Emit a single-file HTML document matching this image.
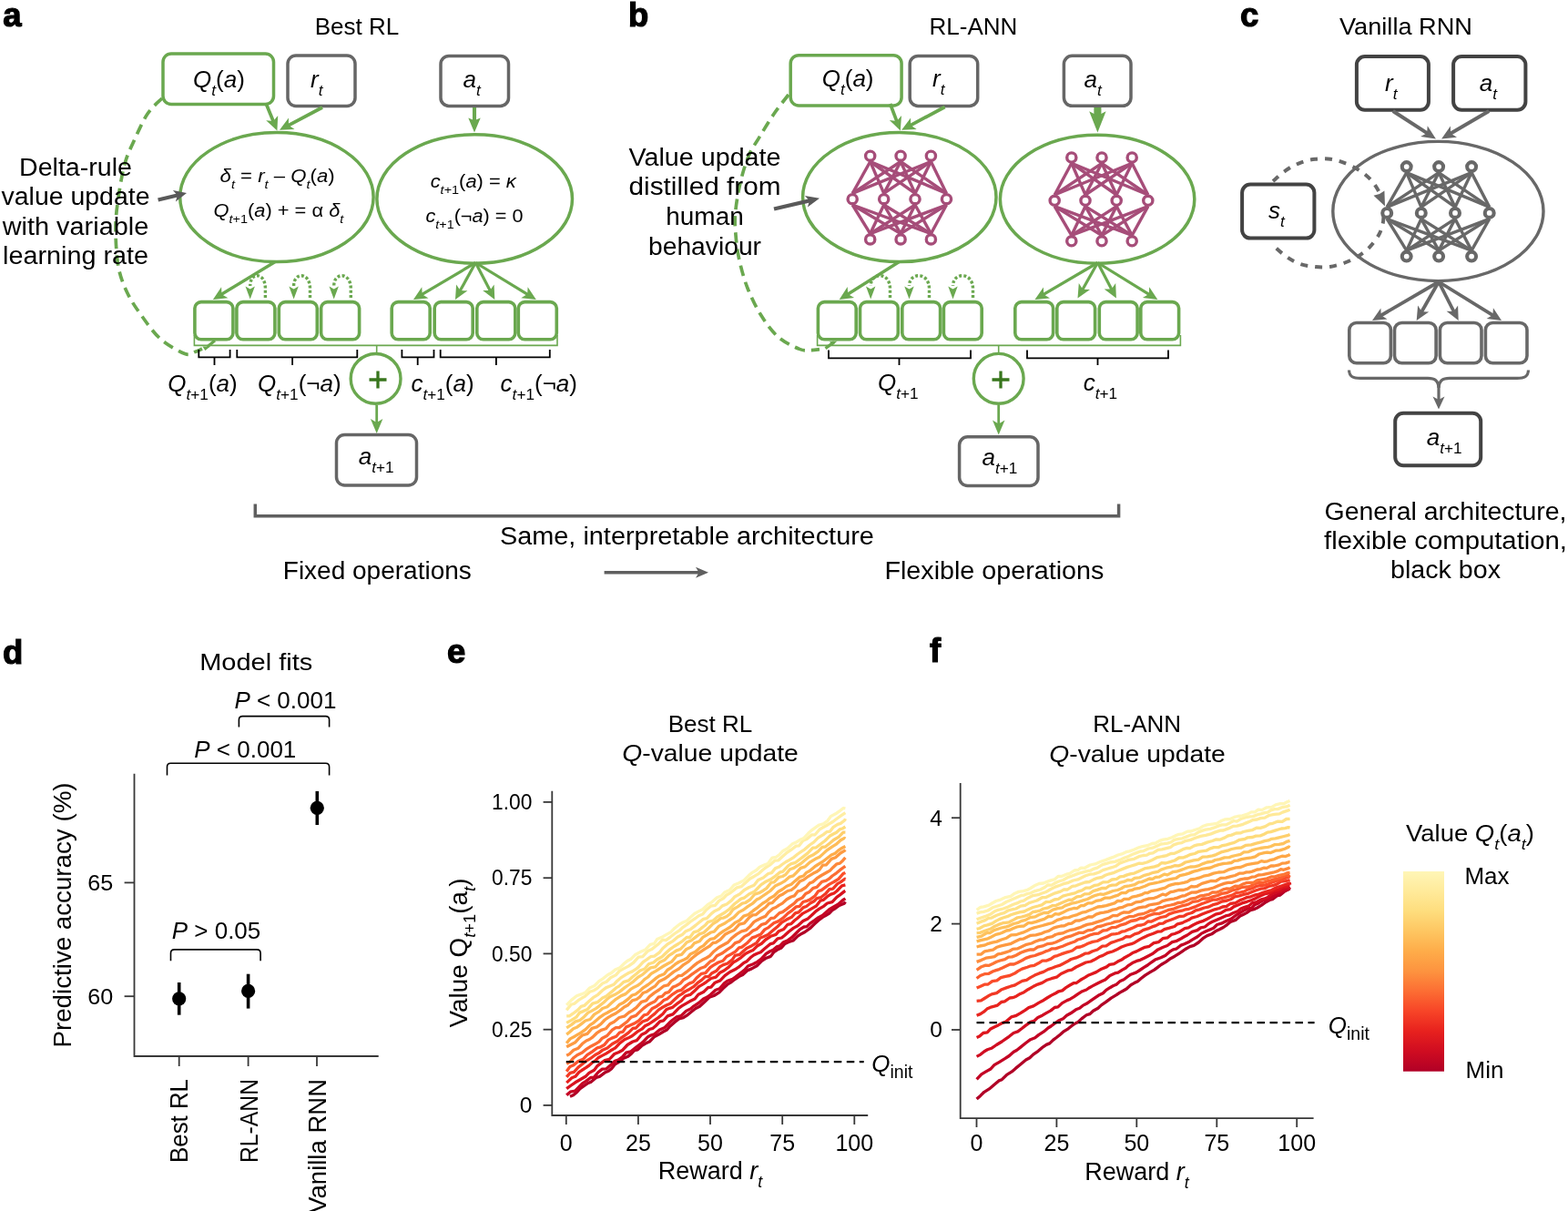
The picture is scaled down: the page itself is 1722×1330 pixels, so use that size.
<!DOCTYPE html>
<html><head><meta charset="utf-8"><title>Figure</title><style>html,body{margin:0;padding:0;background:#fff;}svg{display:block;}</style></head><body>
<svg width="1722" height="1330" viewBox="0 0 1722 1330" font-family="'Liberation Sans', Arial, sans-serif">
<rect width="1722" height="1330" fill="#fff"/>
<text x="3.2" y="28.8" font-size="36.5" text-anchor="start" fill="#000" font-weight="bold" stroke="#000" stroke-width="1.2">a</text>
<text x="690.0" y="28.8" font-size="36.5" text-anchor="start" fill="#000" font-weight="bold" stroke="#000" stroke-width="1.2">b</text>
<text x="1362.0" y="28.8" font-size="36.5" text-anchor="start" fill="#000" font-weight="bold" stroke="#000" stroke-width="1.2">c</text>
<text x="3.0" y="728.5" font-size="36.5" text-anchor="start" fill="#000" font-weight="bold" stroke="#000" stroke-width="1.2">d</text>
<text x="491.0" y="727.8" font-size="36.5" text-anchor="start" fill="#000" font-weight="bold" stroke="#000" stroke-width="1.2">e</text>
<text x="1021.0" y="726.8" font-size="36.5" text-anchor="start" fill="#000" font-weight="bold" stroke="#000" stroke-width="1.2">f</text>
<text x="392.0" y="37.9" font-size="26" text-anchor="middle" fill="#000" >Best RL</text>
<text x="1069.0" y="37.9" font-size="26" text-anchor="middle" fill="#000" >RL-ANN</text>
<text x="1544.0" y="37.7" font-size="26.5" text-anchor="middle" fill="#000" textLength="146" lengthAdjust="spacingAndGlyphs" >Vanilla RNN</text>
<path d="M178.0,108.0 C175.3,110.8 167.2,117.2 162.0,125.0 C156.8,132.8 151.2,145.8 147.0,155.0 C142.8,164.2 139.8,169.7 137.0,180.0 C134.2,190.3 131.7,205.2 130.0,217.0 C128.3,228.8 127.0,238.3 127.0,251.0 C127.0,263.7 127.8,281.2 130.0,293.0 C132.2,304.8 135.8,313.2 140.0,322.0 C144.2,330.8 149.0,337.7 155.0,346.0 C161.0,354.3 168.0,364.9 176.0,372.0 C184.0,379.1 196.7,386.1 203.0,388.5 C209.3,390.9 210.8,387.4 214.0,386.5 C217.2,385.6 220.7,383.6 222.0,383.0" fill="none" stroke="#6aa84f" stroke-width="3.7" stroke-dasharray="11.5 7"/>
<path d="M236,374 L227.5,381" stroke="#6aa84f" stroke-width="3.2"/>
<polygon points="222.4,380.6 230.8,380.6 225.4,385" fill="#6aa84f"/>
<path d="M213.4,368 V379.4 H612 V368" fill="none" stroke="#6aa84f" stroke-width="1.6"/>
<line x1="413.7" y1="379.4" x2="413.7" y2="388.0" stroke="#6aa84f" stroke-width="1.6" />
<rect x="179.0" y="59.0" width="121.5" height="55.5" rx="9" fill="#fff" stroke="#6aa84f" stroke-width="3.5"/>
<rect x="316.0" y="61.0" width="74.0" height="55.5" rx="9" fill="#fff" stroke="#666666" stroke-width="3.5"/>
<rect x="484.0" y="61.4" width="74.5" height="55.0" rx="9" fill="#fff" stroke="#666666" stroke-width="3.5"/>
<line x1="292.7" y1="115.0" x2="301.0" y2="135.2" stroke="#6aa84f" stroke-width="3.7"/>
<polygon points="304.4,143.5 292.2,132.3 300.1,133.1 305.2,127.0" fill="#6aa84f"/>
<line x1="354.0" y1="118.0" x2="315.0" y2="138.6" stroke="#6aa84f" stroke-width="3.7"/>
<polygon points="307.0,142.8 317.0,129.6 316.9,137.5 323.5,142.0" fill="#6aa84f"/>
<line x1="521.0" y1="118.0" x2="521.0" y2="135.9" stroke="#6aa84f" stroke-width="4.1"/>
<polygon points="521.0,145.5 514.3,129.5 521.0,132.2 527.7,129.5" fill="#6aa84f"/>
<ellipse cx="303.9" cy="216.6" rx="106.2" ry="71.0" fill="none" stroke="#6aa84f" stroke-width="3.5"/>
<ellipse cx="521.2" cy="218.5" rx="107.3" ry="70.7" fill="none" stroke="#6aa84f" stroke-width="3.5"/>
<line x1="302.2" y1="287.5" x2="241.6" y2="324.3" stroke="#6aa84f" stroke-width="3.4"/>
<polygon points="233.9,329.0 243.1,315.2 243.5,323.2 250.4,327.2" fill="#6aa84f"/>
<line x1="522.3" y1="288.5" x2="461.7" y2="324.4" stroke="#6aa84f" stroke-width="3.2"/>
<polygon points="454.0,329.0 463.3,315.3 463.7,323.3 470.5,327.4" fill="#6aa84f"/>
<line x1="522.3" y1="288.5" x2="504.3" y2="321.1" stroke="#6aa84f" stroke-width="3.2"/>
<polygon points="500.0,329.0 501.1,312.5 505.4,319.1 513.4,319.2" fill="#6aa84f"/>
<line x1="522.3" y1="288.5" x2="539.2" y2="321.0" stroke="#6aa84f" stroke-width="3.2"/>
<polygon points="543.3,329.0 530.2,318.9 538.1,319.0 542.6,312.5" fill="#6aa84f"/>
<line x1="522.3" y1="288.5" x2="581.1" y2="324.3" stroke="#6aa84f" stroke-width="3.2"/>
<polygon points="588.8,329.0 572.3,327.2 579.2,323.1 579.6,315.2" fill="#6aa84f"/>
<rect x="213.9" y="331.6" width="42.0" height="41.1" rx="7" fill="#fff" stroke="#6aa84f" stroke-width="3.6"/>
<rect x="259.9" y="331.6" width="42.0" height="41.1" rx="7" fill="#fff" stroke="#6aa84f" stroke-width="3.6"/>
<rect x="306.3" y="331.6" width="42.0" height="41.1" rx="7" fill="#fff" stroke="#6aa84f" stroke-width="3.6"/>
<rect x="352.6" y="331.6" width="42.0" height="41.1" rx="7" fill="#fff" stroke="#6aa84f" stroke-width="3.6"/>
<rect x="430.2" y="331.6" width="42.0" height="41.1" rx="7" fill="#fff" stroke="#6aa84f" stroke-width="3.6"/>
<rect x="477.2" y="331.6" width="42.0" height="41.1" rx="7" fill="#fff" stroke="#6aa84f" stroke-width="3.6"/>
<rect x="523.8" y="331.6" width="42.0" height="41.1" rx="7" fill="#fff" stroke="#6aa84f" stroke-width="3.6"/>
<rect x="569.3" y="331.6" width="42.0" height="41.1" rx="7" fill="#fff" stroke="#6aa84f" stroke-width="3.6"/>
<path d="M291.4,327.0 V317.0 C291.4,298.5 274.7,298.5 274.7,314.0" fill="none" stroke="#6aa84f" stroke-width="3.4" stroke-dasharray="3 2.2"/>
<polygon points="274.7,328.5 269.5,314.5 274.7,317.5 279.9,314.5" fill="#6aa84f"/>
<path d="M340.5,327.0 V317.0 C340.5,298.5 322.6,298.5 322.6,314.0" fill="none" stroke="#6aa84f" stroke-width="3.4" stroke-dasharray="3 2.2"/>
<polygon points="322.6,328.5 317.4,314.5 322.6,317.5 327.8,314.5" fill="#6aa84f"/>
<path d="M385.3,327.0 V317.0 C385.3,298.5 366.7,298.5 366.7,314.0" fill="none" stroke="#6aa84f" stroke-width="3.4" stroke-dasharray="3 2.2"/>
<polygon points="366.7,328.5 361.5,314.5 366.7,317.5 371.9,314.5" fill="#6aa84f"/>
<path d="M218.3,384.1 V392.4 H252.6 V384.1 M235.5,392.4 V401.0" fill="none" stroke="#000" stroke-width="1.8"/>
<path d="M260.3,384.1 V392.4 H392.3 V384.1 M321.1,392.4 V401.0" fill="none" stroke="#000" stroke-width="1.8"/>
<path d="M441.4,384.1 V392.4 H476.5 V384.1 M458.7,392.4 V401.0" fill="none" stroke="#000" stroke-width="1.8"/>
<path d="M483.7,384.1 V392.4 H603.8 V384.1 M544.9,392.4 V401.0" fill="none" stroke="#000" stroke-width="1.8"/>
<circle cx="412.6" cy="415.9" r="27.4" fill="#fff" stroke="#6aa84f" stroke-width="3.4"/>
<path d="M405.5,417 H424.5 M415,407.5 V426.5" stroke="#38761d" stroke-width="3.3"/>
<line x1="413.7" y1="445.0" x2="413.7" y2="466.4" stroke="#6aa84f" stroke-width="2.8"/>
<polygon points="413.7,476.0 406.9,460.0 413.7,464.0 420.4,460.0" fill="#6aa84f"/>
<rect x="369.5" y="477.5" width="88.0" height="55.5" rx="9" fill="#fff" stroke="#666666" stroke-width="3.5"/>
<line x1="173.6" y1="219.5" x2="196.8" y2="214.0" stroke="#595959" stroke-width="4.2"/>
<polygon points="205.0,212.0 192.9,221.6 194.8,214.4 189.9,208.9" fill="#595959"/>
<text x="212.0" y="95.9" font-size="26" text-anchor="start" fill="#000" ><tspan font-style="italic">Q</tspan><tspan baseline-shift="-8.8" font-size="17.2"><tspan font-style="italic">t</tspan></tspan>(<tspan font-style="italic">a</tspan>)</text>
<text x="341.0" y="95.9" font-size="26" text-anchor="start" fill="#000" ><tspan font-style="italic">r</tspan><tspan baseline-shift="-8.8" font-size="17.2"><tspan font-style="italic">t</tspan></tspan></text>
<text x="508.5" y="95.7" font-size="26" text-anchor="start" fill="#000" ><tspan font-style="italic">a</tspan><tspan baseline-shift="-8.8" font-size="17.2"><tspan font-style="italic">t</tspan></tspan></text>
<text x="241.6" y="199.5" font-size="19.5" text-anchor="start" fill="#000" textLength="126" lengthAdjust="spacingAndGlyphs" ><tspan font-style="italic">δ</tspan><tspan baseline-shift="-6.6" font-size="12.9"><tspan font-style="italic">t</tspan></tspan> = <tspan font-style="italic">r</tspan><tspan baseline-shift="-6.6" font-size="12.9"><tspan font-style="italic">t</tspan></tspan> – <tspan font-style="italic">Q</tspan><tspan baseline-shift="-6.6" font-size="12.9"><tspan font-style="italic">t</tspan></tspan>(<tspan font-style="italic">a</tspan>)</text>
<text x="234.4" y="238.4" font-size="19.5" text-anchor="start" fill="#000" textLength="143" lengthAdjust="spacingAndGlyphs" ><tspan font-style="italic">Q</tspan><tspan baseline-shift="-6.6" font-size="12.9"><tspan font-style="italic">t</tspan>+1</tspan>(<tspan font-style="italic">a</tspan>) + = α <tspan font-style="italic">δ</tspan><tspan baseline-shift="-6.6" font-size="12.9"><tspan font-style="italic">t</tspan></tspan></text>
<text x="472.7" y="206.2" font-size="19.5" text-anchor="start" fill="#000" textLength="94" lengthAdjust="spacingAndGlyphs" ><tspan font-style="italic">c</tspan><tspan baseline-shift="-6.6" font-size="12.9"><tspan font-style="italic">t</tspan>+1</tspan>(<tspan font-style="italic">a</tspan>) = <tspan font-style="italic">κ</tspan></text>
<text x="467.5" y="244.3" font-size="19.5" text-anchor="start" fill="#000" textLength="107" lengthAdjust="spacingAndGlyphs" ><tspan font-style="italic">c</tspan><tspan baseline-shift="-6.6" font-size="12.9"><tspan font-style="italic">t</tspan>+1</tspan>(¬<tspan font-style="italic">a</tspan>) = 0</text>
<text x="184.3" y="429.8" font-size="26" text-anchor="start" fill="#000" ><tspan font-style="italic">Q</tspan><tspan baseline-shift="-8.8" font-size="17.2"><tspan font-style="italic">t</tspan>+1</tspan>(<tspan font-style="italic">a</tspan>)</text>
<text x="283.0" y="429.8" font-size="26" text-anchor="start" fill="#000" ><tspan font-style="italic">Q</tspan><tspan baseline-shift="-8.8" font-size="17.2"><tspan font-style="italic">t</tspan>+1</tspan>(¬<tspan font-style="italic">a</tspan>)</text>
<text x="451.4" y="429.8" font-size="26" text-anchor="start" fill="#000" ><tspan font-style="italic">c</tspan><tspan baseline-shift="-8.8" font-size="17.2"><tspan font-style="italic">t</tspan>+1</tspan>(<tspan font-style="italic">a</tspan>)</text>
<text x="549.6" y="429.8" font-size="26" text-anchor="start" fill="#000" ><tspan font-style="italic">c</tspan><tspan baseline-shift="-8.8" font-size="17.2"><tspan font-style="italic">t</tspan>+1</tspan>(¬<tspan font-style="italic">a</tspan>)</text>
<text x="393.7" y="510.2" font-size="26" text-anchor="start" fill="#000" ><tspan font-style="italic">a</tspan><tspan baseline-shift="-8.8" font-size="17.2"><tspan font-style="italic">t</tspan>+1</tspan></text>
<text x="83.0" y="192.6" font-size="27" text-anchor="middle" fill="#000" textLength="124" lengthAdjust="spacingAndGlyphs" >Delta-rule</text>
<text x="83.0" y="225.1" font-size="27" text-anchor="middle" fill="#000" textLength="163" lengthAdjust="spacingAndGlyphs" >value update</text>
<text x="83.0" y="257.6" font-size="27" text-anchor="middle" fill="#000" textLength="160.5" lengthAdjust="spacingAndGlyphs" >with variable</text>
<text x="83.0" y="290.1" font-size="27" text-anchor="middle" fill="#000" textLength="160" lengthAdjust="spacingAndGlyphs" >learning rate</text>
<path d="M866.0,104.0 C863.3,107.5 855.3,117.2 850.0,125.0 C844.7,132.8 838.7,142.8 834.0,150.6 C829.3,158.4 825.5,163.0 822.0,171.6 C818.5,180.2 815.1,191.5 812.7,202.0 C810.3,212.5 808.3,225.3 807.5,234.6 C806.7,243.9 807.3,249.8 808.0,258.0 C808.7,266.2 809.4,273.9 811.5,283.6 C813.6,293.3 816.7,305.5 820.8,316.0 C824.9,326.5 830.4,337.6 836.0,346.6 C841.6,355.6 847.6,363.9 854.6,370.0 C861.6,376.1 872.1,381.0 878.0,383.4 C883.9,385.8 886.3,384.6 890.0,384.6 C893.7,384.6 898.3,383.8 900.0,383.6" fill="none" stroke="#6aa84f" stroke-width="3.7" stroke-dasharray="11.5 7"/>
<path d="M906.5,382.6 L916,375.6" stroke="#6aa84f" stroke-width="3.2"/>
<polygon points="911,375.2 919.5,374.6 914.2,379.6" fill="#6aa84f"/>
<path d="M897.6,368 V379.4 H1296.4 V368" fill="none" stroke="#6aa84f" stroke-width="1.6"/>
<line x1="1096.7" y1="379.4" x2="1096.7" y2="388.0" stroke="#6aa84f" stroke-width="1.6" />
<rect x="868.2" y="60.7" width="121.9" height="55.3" rx="9" fill="#fff" stroke="#6aa84f" stroke-width="3.5"/>
<rect x="999.2" y="61.4" width="74.5" height="55.0" rx="9" fill="#fff" stroke="#666666" stroke-width="3.5"/>
<rect x="1168.4" y="61.3" width="73.6" height="55.0" rx="9" fill="#fff" stroke="#666666" stroke-width="3.5"/>
<line x1="977.6" y1="114.0" x2="985.6" y2="135.1" stroke="#6aa84f" stroke-width="3.7"/>
<polygon points="988.8,143.5 976.9,132.0 984.8,133.0 990.0,127.0" fill="#6aa84f"/>
<line x1="1037.6" y1="117.5" x2="998.1" y2="138.6" stroke="#6aa84f" stroke-width="3.7"/>
<polygon points="990.2,142.8 1000.1,129.6 1000.1,137.5 1006.7,141.9" fill="#6aa84f"/>
<line x1="1205.4" y1="118.0" x2="1205.4" y2="131.5" stroke="#6aa84f" stroke-width="8.1"/>
<polygon points="1205.4,145.5 1196.2,122.2 1205.4,126.9 1214.6,122.2" fill="#6aa84f"/>
<ellipse cx="987.8" cy="216.6" rx="106.2" ry="71.0" fill="none" stroke="#6aa84f" stroke-width="3.5"/>
<ellipse cx="1205.1" cy="218.8" rx="106.7" ry="70.5" fill="none" stroke="#6aa84f" stroke-width="3.5"/>
<line x1="955.7" y1="177.5" x2="936.2" y2="212.4" stroke="#a64d79" stroke-width="3.4" />
<line x1="955.7" y1="177.5" x2="970.7" y2="212.4" stroke="#a64d79" stroke-width="3.4" />
<line x1="955.7" y1="177.5" x2="1005.0" y2="212.4" stroke="#a64d79" stroke-width="3.4" />
<line x1="955.7" y1="177.5" x2="1039.5" y2="212.4" stroke="#a64d79" stroke-width="3.4" />
<line x1="989.1" y1="177.5" x2="936.2" y2="212.4" stroke="#a64d79" stroke-width="3.4" />
<line x1="989.1" y1="177.5" x2="970.7" y2="212.4" stroke="#a64d79" stroke-width="3.4" />
<line x1="989.1" y1="177.5" x2="1005.0" y2="212.4" stroke="#a64d79" stroke-width="3.4" />
<line x1="989.1" y1="177.5" x2="1039.5" y2="212.4" stroke="#a64d79" stroke-width="3.4" />
<line x1="1022.4" y1="177.5" x2="936.2" y2="212.4" stroke="#a64d79" stroke-width="3.4" />
<line x1="1022.4" y1="177.5" x2="970.7" y2="212.4" stroke="#a64d79" stroke-width="3.4" />
<line x1="1022.4" y1="177.5" x2="1005.0" y2="212.4" stroke="#a64d79" stroke-width="3.4" />
<line x1="1022.4" y1="177.5" x2="1039.5" y2="212.4" stroke="#a64d79" stroke-width="3.4" />
<line x1="936.2" y1="225.0" x2="955.7" y2="256.6" stroke="#a64d79" stroke-width="3.4" />
<line x1="936.2" y1="225.0" x2="989.1" y2="256.6" stroke="#a64d79" stroke-width="3.4" />
<line x1="936.2" y1="225.0" x2="1022.4" y2="256.6" stroke="#a64d79" stroke-width="3.4" />
<line x1="970.7" y1="225.0" x2="955.7" y2="256.6" stroke="#a64d79" stroke-width="3.4" />
<line x1="970.7" y1="225.0" x2="989.1" y2="256.6" stroke="#a64d79" stroke-width="3.4" />
<line x1="970.7" y1="225.0" x2="1022.4" y2="256.6" stroke="#a64d79" stroke-width="3.4" />
<line x1="1005.0" y1="225.0" x2="955.7" y2="256.6" stroke="#a64d79" stroke-width="3.4" />
<line x1="1005.0" y1="225.0" x2="989.1" y2="256.6" stroke="#a64d79" stroke-width="3.4" />
<line x1="1005.0" y1="225.0" x2="1022.4" y2="256.6" stroke="#a64d79" stroke-width="3.4" />
<line x1="1039.5" y1="225.0" x2="955.7" y2="256.6" stroke="#a64d79" stroke-width="3.4" />
<line x1="1039.5" y1="225.0" x2="989.1" y2="256.6" stroke="#a64d79" stroke-width="3.4" />
<line x1="1039.5" y1="225.0" x2="1022.4" y2="256.6" stroke="#a64d79" stroke-width="3.4" />
<circle cx="955.7" cy="171.2" r="5.1" fill="#fff" stroke="#a64d79" stroke-width="3.4"/>
<circle cx="989.1" cy="171.2" r="5.1" fill="#fff" stroke="#a64d79" stroke-width="3.4"/>
<circle cx="1022.4" cy="171.2" r="5.1" fill="#fff" stroke="#a64d79" stroke-width="3.4"/>
<circle cx="936.2" cy="218.7" r="5.1" fill="#fff" stroke="#a64d79" stroke-width="3.4"/>
<circle cx="970.7" cy="218.7" r="5.1" fill="#fff" stroke="#a64d79" stroke-width="3.4"/>
<circle cx="1005.0" cy="218.7" r="5.1" fill="#fff" stroke="#a64d79" stroke-width="3.4"/>
<circle cx="1039.5" cy="218.7" r="5.1" fill="#fff" stroke="#a64d79" stroke-width="3.4"/>
<circle cx="955.7" cy="262.9" r="5.1" fill="#fff" stroke="#a64d79" stroke-width="3.4"/>
<circle cx="989.1" cy="262.9" r="5.1" fill="#fff" stroke="#a64d79" stroke-width="3.4"/>
<circle cx="1022.4" cy="262.9" r="5.1" fill="#fff" stroke="#a64d79" stroke-width="3.4"/>
<line x1="1176.8" y1="179.3" x2="1158.2" y2="214.0" stroke="#a64d79" stroke-width="3.4" />
<line x1="1176.8" y1="179.3" x2="1192.0" y2="214.0" stroke="#a64d79" stroke-width="3.4" />
<line x1="1176.8" y1="179.3" x2="1226.2" y2="214.0" stroke="#a64d79" stroke-width="3.4" />
<line x1="1176.8" y1="179.3" x2="1260.8" y2="214.0" stroke="#a64d79" stroke-width="3.4" />
<line x1="1210.0" y1="179.3" x2="1158.2" y2="214.0" stroke="#a64d79" stroke-width="3.4" />
<line x1="1210.0" y1="179.3" x2="1192.0" y2="214.0" stroke="#a64d79" stroke-width="3.4" />
<line x1="1210.0" y1="179.3" x2="1226.2" y2="214.0" stroke="#a64d79" stroke-width="3.4" />
<line x1="1210.0" y1="179.3" x2="1260.8" y2="214.0" stroke="#a64d79" stroke-width="3.4" />
<line x1="1243.2" y1="179.3" x2="1158.2" y2="214.0" stroke="#a64d79" stroke-width="3.4" />
<line x1="1243.2" y1="179.3" x2="1192.0" y2="214.0" stroke="#a64d79" stroke-width="3.4" />
<line x1="1243.2" y1="179.3" x2="1226.2" y2="214.0" stroke="#a64d79" stroke-width="3.4" />
<line x1="1243.2" y1="179.3" x2="1260.8" y2="214.0" stroke="#a64d79" stroke-width="3.4" />
<line x1="1158.2" y1="226.6" x2="1176.8" y2="258.5" stroke="#a64d79" stroke-width="3.4" />
<line x1="1158.2" y1="226.6" x2="1210.0" y2="258.5" stroke="#a64d79" stroke-width="3.4" />
<line x1="1158.2" y1="226.6" x2="1243.2" y2="258.5" stroke="#a64d79" stroke-width="3.4" />
<line x1="1192.0" y1="226.6" x2="1176.8" y2="258.5" stroke="#a64d79" stroke-width="3.4" />
<line x1="1192.0" y1="226.6" x2="1210.0" y2="258.5" stroke="#a64d79" stroke-width="3.4" />
<line x1="1192.0" y1="226.6" x2="1243.2" y2="258.5" stroke="#a64d79" stroke-width="3.4" />
<line x1="1226.2" y1="226.6" x2="1176.8" y2="258.5" stroke="#a64d79" stroke-width="3.4" />
<line x1="1226.2" y1="226.6" x2="1210.0" y2="258.5" stroke="#a64d79" stroke-width="3.4" />
<line x1="1226.2" y1="226.6" x2="1243.2" y2="258.5" stroke="#a64d79" stroke-width="3.4" />
<line x1="1260.8" y1="226.6" x2="1176.8" y2="258.5" stroke="#a64d79" stroke-width="3.4" />
<line x1="1260.8" y1="226.6" x2="1210.0" y2="258.5" stroke="#a64d79" stroke-width="3.4" />
<line x1="1260.8" y1="226.6" x2="1243.2" y2="258.5" stroke="#a64d79" stroke-width="3.4" />
<circle cx="1176.8" cy="173.0" r="5.1" fill="#fff" stroke="#a64d79" stroke-width="3.4"/>
<circle cx="1210.0" cy="173.0" r="5.1" fill="#fff" stroke="#a64d79" stroke-width="3.4"/>
<circle cx="1243.2" cy="173.0" r="5.1" fill="#fff" stroke="#a64d79" stroke-width="3.4"/>
<circle cx="1158.2" cy="220.3" r="5.1" fill="#fff" stroke="#a64d79" stroke-width="3.4"/>
<circle cx="1192.0" cy="220.3" r="5.1" fill="#fff" stroke="#a64d79" stroke-width="3.4"/>
<circle cx="1226.2" cy="220.3" r="5.1" fill="#fff" stroke="#a64d79" stroke-width="3.4"/>
<circle cx="1260.8" cy="220.3" r="5.1" fill="#fff" stroke="#a64d79" stroke-width="3.4"/>
<circle cx="1176.8" cy="264.8" r="5.1" fill="#fff" stroke="#a64d79" stroke-width="3.4"/>
<circle cx="1210.0" cy="264.8" r="5.1" fill="#fff" stroke="#a64d79" stroke-width="3.4"/>
<circle cx="1243.2" cy="264.8" r="5.1" fill="#fff" stroke="#a64d79" stroke-width="3.4"/>
<line x1="987.5" y1="287.5" x2="929.3" y2="324.2" stroke="#6aa84f" stroke-width="3.4"/>
<polygon points="921.7,329.0 930.7,315.1 931.2,323.0 938.1,326.9" fill="#6aa84f"/>
<line x1="1205.5" y1="288.5" x2="1144.3" y2="324.4" stroke="#6aa84f" stroke-width="3.2"/>
<polygon points="1136.5,329.0 1145.9,315.4 1146.2,323.3 1153.0,327.4" fill="#6aa84f"/>
<line x1="1205.5" y1="288.5" x2="1187.9" y2="319.7" stroke="#6aa84f" stroke-width="3.2"/>
<polygon points="1183.5,327.5 1184.8,311.0 1189.0,317.7 1197.0,317.9" fill="#6aa84f"/>
<line x1="1205.5" y1="288.5" x2="1221.7" y2="319.5" stroke="#6aa84f" stroke-width="3.2"/>
<polygon points="1225.9,327.5 1212.7,317.5 1220.7,317.5 1225.2,311.0" fill="#6aa84f"/>
<line x1="1205.5" y1="288.5" x2="1263.6" y2="324.3" stroke="#6aa84f" stroke-width="3.2"/>
<polygon points="1271.3,329.0 1254.9,327.1 1261.7,323.1 1262.2,315.2" fill="#6aa84f"/>
<rect x="898.4" y="331.6" width="41.8" height="41.1" rx="7" fill="#fff" stroke="#6aa84f" stroke-width="3.6"/>
<rect x="944.5" y="331.6" width="41.8" height="41.1" rx="7" fill="#fff" stroke="#6aa84f" stroke-width="3.6"/>
<rect x="990.8" y="331.6" width="41.8" height="41.1" rx="7" fill="#fff" stroke="#6aa84f" stroke-width="3.6"/>
<rect x="1036.4" y="331.6" width="41.8" height="41.1" rx="7" fill="#fff" stroke="#6aa84f" stroke-width="3.6"/>
<rect x="1114.8" y="331.6" width="41.8" height="41.1" rx="7" fill="#fff" stroke="#6aa84f" stroke-width="3.6"/>
<rect x="1160.8" y="331.6" width="41.8" height="41.1" rx="7" fill="#fff" stroke="#6aa84f" stroke-width="3.6"/>
<rect x="1207.3" y="331.6" width="41.8" height="41.1" rx="7" fill="#fff" stroke="#6aa84f" stroke-width="3.6"/>
<rect x="1252.8" y="331.6" width="41.8" height="41.1" rx="7" fill="#fff" stroke="#6aa84f" stroke-width="3.6"/>
<path d="M977.5,327.0 V317.0 C977.5,298.5 956.2,298.5 956.2,314.0" fill="none" stroke="#6aa84f" stroke-width="3.4" stroke-dasharray="3 2.2"/>
<polygon points="956.2,328.5 951.0,314.5 956.2,317.5 961.4,314.5" fill="#6aa84f"/>
<path d="M1020.5,327.0 V317.0 C1020.5,298.5 998.5,298.5 998.5,314.0" fill="none" stroke="#6aa84f" stroke-width="3.4" stroke-dasharray="3 2.2"/>
<polygon points="998.5,328.5 993.3,314.5 998.5,317.5 1003.7,314.5" fill="#6aa84f"/>
<path d="M1068.5,327.0 V317.0 C1068.5,298.5 1046.5,298.5 1046.5,314.0" fill="none" stroke="#6aa84f" stroke-width="3.4" stroke-dasharray="3 2.2"/>
<polygon points="1046.5,328.5 1041.3,314.5 1046.5,317.5 1051.7,314.5" fill="#6aa84f"/>
<path d="M910.0,384.5 V393.3 H1066.0 V384.5 M987.5,393.3 V401.0" fill="none" stroke="#000" stroke-width="1.8"/>
<path d="M1128.0,384.5 V393.3 H1283.0 V384.5 M1205.5,393.3 V401.0" fill="none" stroke="#000" stroke-width="1.8"/>
<circle cx="1096.7" cy="415.8" r="27.4" fill="#fff" stroke="#6aa84f" stroke-width="3.4"/>
<path d="M1089.5,417 H1108.5 M1099,407.5 V426.5" stroke="#38761d" stroke-width="3.3"/>
<line x1="1096.7" y1="445.0" x2="1096.7" y2="467.9" stroke="#6aa84f" stroke-width="2.8"/>
<polygon points="1096.7,477.5 1090.0,461.5 1096.7,465.5 1103.5,461.5" fill="#6aa84f"/>
<rect x="1053.6" y="479.8" width="86.4" height="53.7" rx="9" fill="#fff" stroke="#666666" stroke-width="3.5"/>
<line x1="850.0" y1="229.5" x2="891.2" y2="219.9" stroke="#595959" stroke-width="4.2"/>
<polygon points="900.0,217.8 886.9,227.5 889.0,220.4 883.9,214.9" fill="#595959"/>
<text x="902.7" y="95.2" font-size="26" text-anchor="start" fill="#000" ><tspan font-style="italic">Q</tspan><tspan baseline-shift="-8.8" font-size="17.2"><tspan font-style="italic">t</tspan></tspan>(<tspan font-style="italic">a</tspan>)</text>
<text x="1024.0" y="95.2" font-size="26" text-anchor="start" fill="#000" ><tspan font-style="italic">r</tspan><tspan baseline-shift="-8.8" font-size="17.2"><tspan font-style="italic">t</tspan></tspan></text>
<text x="1190.5" y="95.7" font-size="26" text-anchor="start" fill="#000" ><tspan font-style="italic">a</tspan><tspan baseline-shift="-8.8" font-size="17.2"><tspan font-style="italic">t</tspan></tspan></text>
<text x="964.0" y="429.3" font-size="26" text-anchor="start" fill="#000" ><tspan font-style="italic">Q</tspan><tspan baseline-shift="-8.8" font-size="17.2"><tspan font-style="italic">t</tspan>+1</tspan></text>
<text x="1189.8" y="429.3" font-size="26" text-anchor="start" fill="#000" ><tspan font-style="italic">c</tspan><tspan baseline-shift="-8.8" font-size="17.2"><tspan font-style="italic">t</tspan>+1</tspan></text>
<text x="1078.5" y="510.9" font-size="26" text-anchor="start" fill="#000" ><tspan font-style="italic">a</tspan><tspan baseline-shift="-8.8" font-size="17.2"><tspan font-style="italic">t</tspan>+1</tspan></text>
<text x="774.0" y="181.6" font-size="27" text-anchor="middle" fill="#000" textLength="167" lengthAdjust="spacingAndGlyphs" >Value update</text>
<text x="774.0" y="214.4" font-size="27" text-anchor="middle" fill="#000" textLength="167" lengthAdjust="spacingAndGlyphs" >distilled from</text>
<text x="774.0" y="247.2" font-size="27" text-anchor="middle" fill="#000" textLength="85.5" lengthAdjust="spacingAndGlyphs" >human</text>
<text x="774.0" y="280.0" font-size="27" text-anchor="middle" fill="#000" textLength="124" lengthAdjust="spacingAndGlyphs" >behaviour</text>
<ellipse cx="1579.4" cy="232.0" rx="115.6" ry="76.6" fill="none" stroke="#686868" stroke-width="3.4"/>
<path d="M1398.0,199.0 C1400.6,196.8 1408.7,189.4 1413.8,186.0 C1418.9,182.6 1423.4,180.5 1428.5,178.6 C1433.6,176.7 1438.8,175.3 1444.3,174.7 C1449.8,174.0 1455.8,173.9 1461.2,174.7 C1466.7,175.4 1471.7,177.1 1477.0,179.2 C1482.3,181.2 1488.1,184.0 1492.8,187.0 C1497.5,190.0 1501.8,193.7 1505.2,197.2 C1508.6,200.7 1510.9,204.5 1513.0,208.0 C1515.1,211.5 1517.2,216.3 1518.0,218.0" fill="none" stroke="#686868" stroke-width="4" stroke-dasharray="8 8"/>
<path d="M1519.5,237.5 C1519.3,238.9 1519.5,242.3 1518.6,245.7 C1517.7,249.1 1516.6,253.7 1514.2,258.0 C1511.8,262.3 1507.9,267.6 1504.0,271.6 C1500.1,275.6 1495.5,279.0 1491.0,281.8 C1486.5,284.6 1482.1,286.6 1477.0,288.5 C1471.9,290.4 1466.0,292.2 1460.6,293.0 C1455.1,293.8 1449.8,293.6 1444.3,293.0 C1438.8,292.4 1432.7,291.6 1427.4,289.7 C1422.1,287.8 1417.4,285.0 1412.7,281.8 C1408.0,278.6 1401.5,272.4 1399.2,270.5" fill="none" stroke="#686868" stroke-width="4" stroke-dasharray="8 8"/>
<polygon points="1521,226.5 1508.5,214.7 1515,213 1520.4,209.6" fill="#686868"/>
<rect x="1364.1" y="202.6" width="79.3" height="59.0" rx="9" fill="#fff" stroke="#434343" stroke-width="4"/>
<rect x="1489.9" y="62.1" width="79.0" height="58.6" rx="9" fill="#fff" stroke="#434343" stroke-width="4"/>
<rect x="1596.1" y="62.1" width="79.3" height="58.6" rx="9" fill="#fff" stroke="#434343" stroke-width="4"/>
<line x1="1529.8" y1="122.0" x2="1569.1" y2="147.4" stroke="#686868" stroke-width="4"/>
<polygon points="1576.9,152.5 1560.1,150.0 1567.1,146.2 1567.7,138.2" fill="#686868"/>
<line x1="1635.2" y1="122.0" x2="1591.1" y2="147.8" stroke="#686868" stroke-width="4"/>
<polygon points="1583.1,152.5 1592.9,138.6 1593.1,146.6 1600.0,150.7" fill="#686868"/>
<line x1="1544.7" y1="189.6" x2="1523.2" y2="227.4" stroke="#686868" stroke-width="3.4" />
<line x1="1544.7" y1="189.6" x2="1560.8" y2="227.4" stroke="#686868" stroke-width="3.4" />
<line x1="1544.7" y1="189.6" x2="1598.0" y2="227.4" stroke="#686868" stroke-width="3.4" />
<line x1="1544.7" y1="189.6" x2="1635.7" y2="227.4" stroke="#686868" stroke-width="3.4" />
<line x1="1580.1" y1="189.6" x2="1523.2" y2="227.4" stroke="#686868" stroke-width="3.4" />
<line x1="1580.1" y1="189.6" x2="1560.8" y2="227.4" stroke="#686868" stroke-width="3.4" />
<line x1="1580.1" y1="189.6" x2="1598.0" y2="227.4" stroke="#686868" stroke-width="3.4" />
<line x1="1580.1" y1="189.6" x2="1635.7" y2="227.4" stroke="#686868" stroke-width="3.4" />
<line x1="1616.1" y1="189.6" x2="1523.2" y2="227.4" stroke="#686868" stroke-width="3.4" />
<line x1="1616.1" y1="189.6" x2="1560.8" y2="227.4" stroke="#686868" stroke-width="3.4" />
<line x1="1616.1" y1="189.6" x2="1598.0" y2="227.4" stroke="#686868" stroke-width="3.4" />
<line x1="1616.1" y1="189.6" x2="1635.7" y2="227.4" stroke="#686868" stroke-width="3.4" />
<line x1="1523.2" y1="240.4" x2="1544.7" y2="275.1" stroke="#686868" stroke-width="3.4" />
<line x1="1523.2" y1="240.4" x2="1580.1" y2="275.1" stroke="#686868" stroke-width="3.4" />
<line x1="1523.2" y1="240.4" x2="1616.1" y2="275.1" stroke="#686868" stroke-width="3.4" />
<line x1="1560.8" y1="240.4" x2="1544.7" y2="275.1" stroke="#686868" stroke-width="3.4" />
<line x1="1560.8" y1="240.4" x2="1580.1" y2="275.1" stroke="#686868" stroke-width="3.4" />
<line x1="1560.8" y1="240.4" x2="1616.1" y2="275.1" stroke="#686868" stroke-width="3.4" />
<line x1="1598.0" y1="240.4" x2="1544.7" y2="275.1" stroke="#686868" stroke-width="3.4" />
<line x1="1598.0" y1="240.4" x2="1580.1" y2="275.1" stroke="#686868" stroke-width="3.4" />
<line x1="1598.0" y1="240.4" x2="1616.1" y2="275.1" stroke="#686868" stroke-width="3.4" />
<line x1="1635.7" y1="240.4" x2="1544.7" y2="275.1" stroke="#686868" stroke-width="3.4" />
<line x1="1635.7" y1="240.4" x2="1580.1" y2="275.1" stroke="#686868" stroke-width="3.4" />
<line x1="1635.7" y1="240.4" x2="1616.1" y2="275.1" stroke="#686868" stroke-width="3.4" />
<circle cx="1544.7" cy="183.1" r="4.95" fill="#fff" stroke="#686868" stroke-width="4.1"/>
<circle cx="1580.1" cy="183.1" r="4.95" fill="#fff" stroke="#686868" stroke-width="4.1"/>
<circle cx="1616.1" cy="183.1" r="4.95" fill="#fff" stroke="#686868" stroke-width="4.1"/>
<circle cx="1523.2" cy="233.9" r="4.95" fill="#fff" stroke="#686868" stroke-width="4.1"/>
<circle cx="1560.8" cy="233.9" r="4.95" fill="#fff" stroke="#686868" stroke-width="4.1"/>
<circle cx="1598.0" cy="233.9" r="4.95" fill="#fff" stroke="#686868" stroke-width="4.1"/>
<circle cx="1635.7" cy="233.9" r="4.95" fill="#fff" stroke="#686868" stroke-width="4.1"/>
<circle cx="1544.7" cy="281.6" r="4.95" fill="#fff" stroke="#686868" stroke-width="4.1"/>
<circle cx="1580.1" cy="281.6" r="4.95" fill="#fff" stroke="#686868" stroke-width="4.1"/>
<circle cx="1616.1" cy="281.6" r="4.95" fill="#fff" stroke="#686868" stroke-width="4.1"/>
<line x1="1580.0" y1="309.5" x2="1514.8" y2="347.5" stroke="#686868" stroke-width="3.8"/>
<polygon points="1507.0,352.0 1516.4,338.4 1516.7,346.3 1523.5,350.5" fill="#686868"/>
<line x1="1580.0" y1="309.5" x2="1560.2" y2="344.2" stroke="#686868" stroke-width="3.8"/>
<polygon points="1555.7,352.0 1557.1,335.5 1561.3,342.2 1569.2,342.5" fill="#686868"/>
<line x1="1580.0" y1="309.5" x2="1597.6" y2="344.0" stroke="#686868" stroke-width="3.8"/>
<polygon points="1601.7,352.0 1588.6,341.8 1596.6,342.0 1601.1,335.5" fill="#686868"/>
<line x1="1580.0" y1="309.5" x2="1641.3" y2="347.3" stroke="#686868" stroke-width="3.8"/>
<polygon points="1649.0,352.0 1632.6,350.1 1639.4,346.1 1639.9,338.2" fill="#686868"/>
<rect x="1481.8" y="354.5" width="45.6" height="44.3" rx="8" fill="#fff" stroke="#686868" stroke-width="3.6"/>
<rect x="1531.5" y="354.5" width="45.6" height="44.3" rx="8" fill="#fff" stroke="#686868" stroke-width="3.6"/>
<rect x="1581.4" y="354.5" width="45.6" height="44.3" rx="8" fill="#fff" stroke="#686868" stroke-width="3.6"/>
<rect x="1631.4" y="354.5" width="45.6" height="44.3" rx="8" fill="#fff" stroke="#686868" stroke-width="3.6"/>
<path d="M1481.5,406.5 C1482,414 1486,415.4 1494,415.4 H1568 C1576,415.4 1579.5,418 1580,426 C1580.5,418 1584,415.4 1592,415.4 H1666 C1674,415.4 1678,414 1678.5,406.5" fill="none" stroke="#686868" stroke-width="3.2"/>
<line x1="1580.0" y1="424.0" x2="1580.0" y2="441.1" stroke="#686868" stroke-width="3.2"/>
<polygon points="1580.0,449.5 1573.5,435.5 1580.0,439.0 1586.5,435.5" fill="#686868"/>
<rect x="1532.2" y="453.7" width="94.0" height="57.5" rx="9" fill="#fff" stroke="#434343" stroke-width="4"/>
<text x="1521.0" y="100.3" font-size="26" text-anchor="start" fill="#000" ><tspan font-style="italic">r</tspan><tspan baseline-shift="-8.8" font-size="17.2"><tspan font-style="italic">t</tspan></tspan></text>
<text x="1624.8" y="100.3" font-size="26" text-anchor="start" fill="#000" ><tspan font-style="italic">a</tspan><tspan baseline-shift="-8.8" font-size="17.2"><tspan font-style="italic">t</tspan></tspan></text>
<text x="1393.0" y="239.5" font-size="26" text-anchor="start" fill="#000" ><tspan font-style="italic">s</tspan><tspan baseline-shift="-8.8" font-size="17.2"><tspan font-style="italic">t</tspan></tspan></text>
<text x="1566.8" y="488.6" font-size="26" text-anchor="start" fill="#000" ><tspan font-style="italic">a</tspan><tspan baseline-shift="-8.8" font-size="17.2"><tspan font-style="italic">t</tspan>+1</tspan></text>
<text x="1587.5" y="570.6" font-size="27" text-anchor="middle" fill="#000" textLength="266" lengthAdjust="spacingAndGlyphs" >General architecture,</text>
<text x="1587.5" y="602.6" font-size="27" text-anchor="middle" fill="#000" textLength="267" lengthAdjust="spacingAndGlyphs" >flexible computation,</text>
<text x="1587.5" y="634.6" font-size="27" text-anchor="middle" fill="#000" textLength="121" lengthAdjust="spacingAndGlyphs" >black box</text>
<path d="M280.3,553.5 V566.7 H1228.6 V553.5" fill="none" stroke="#5f5f5f" stroke-width="3.5"/>
<text x="754.4" y="598.0" font-size="27" text-anchor="middle" fill="#000" textLength="411" lengthAdjust="spacingAndGlyphs" >Same, interpretable architecture</text>
<text x="414.3" y="636.4" font-size="27" text-anchor="middle" fill="#000" textLength="207" lengthAdjust="spacingAndGlyphs" >Fixed operations</text>
<text x="1091.9" y="636.4" font-size="27" text-anchor="middle" fill="#000" textLength="241" lengthAdjust="spacingAndGlyphs" >Flexible operations</text>
<line x1="663.6" y1="628.7" x2="769.6" y2="628.7" stroke="#5f5f5f" stroke-width="3.5"/>
<polygon points="778.0,628.7 764.0,634.7 767.5,628.7 764.0,622.7" fill="#5f5f5f"/>
<text x="281.2" y="736.0" font-size="26.5" text-anchor="middle" fill="#000" textLength="124" lengthAdjust="spacingAndGlyphs" >Model fits</text>
<text x="313.4" y="778.2" font-size="26" text-anchor="middle" fill="#000" ><tspan font-style="italic">P</tspan> &lt; 0.001</text>
<path d="M262.4,798.6 V790.6 Q262.4,786.6 266.4,786.6 H357.6 Q361.6,786.6 361.6,790.6 V798.6" fill="none" stroke="#000" stroke-width="1.6"/>
<text x="269.3" y="831.8" font-size="26" text-anchor="middle" fill="#000" ><tspan font-style="italic">P</tspan> &lt; 0.001</text>
<path d="M183.5,851.5 V842.2 Q183.5,838.2 187.5,838.2 H357.6 Q361.6,838.2 361.6,842.2 V851.5" fill="none" stroke="#000" stroke-width="1.6"/>
<text x="237.5" y="1030.9" font-size="26" text-anchor="middle" fill="#000" ><tspan font-style="italic">P</tspan> &gt; 0.05</text>
<path d="M187.5,1055.2 V1046.9 Q187.5,1042.9 191.5,1042.9 H282.1 Q286.1,1042.9 286.1,1046.9 V1055.2" fill="none" stroke="#000" stroke-width="1.6"/>
<path d="M147.5,849.7 V1160 H415.7" fill="none" stroke="#383838" stroke-width="1.8"/>
<line x1="136.6" y1="1094.2" x2="147.5" y2="1094.2" stroke="#383838" stroke-width="1.8" />
<text x="124.3" y="1102.5" font-size="23" text-anchor="end" fill="#000" textLength="28" lengthAdjust="spacingAndGlyphs" >60</text>
<line x1="136.6" y1="969.4" x2="147.5" y2="969.4" stroke="#383838" stroke-width="1.8" />
<text x="124.3" y="977.7" font-size="23" text-anchor="end" fill="#000" textLength="28" lengthAdjust="spacingAndGlyphs" >65</text>
<line x1="196.7" y1="1160.0" x2="196.7" y2="1171.0" stroke="#383838" stroke-width="1.8" />
<line x1="272.6" y1="1160.0" x2="272.6" y2="1171.0" stroke="#383838" stroke-width="1.8" />
<line x1="348.0" y1="1160.0" x2="348.0" y2="1171.0" stroke="#383838" stroke-width="1.8" />
<text x="206.0" y="1185.0" font-size="27.5" text-anchor="end" transform="rotate(-90 206.0 1185.0)" textLength="92" lengthAdjust="spacingAndGlyphs" >Best RL</text>
<text x="282.5" y="1185.0" font-size="27.5" text-anchor="end" transform="rotate(-90 282.5 1185.0)" textLength="92" lengthAdjust="spacingAndGlyphs" >RL-ANN</text>
<text x="358.0" y="1185.0" font-size="27.5" text-anchor="end" transform="rotate(-90 358.0 1185.0)" >Vanilla RNN</text>
<text x="78.4" y="1005.0" font-size="27.5" text-anchor="middle" transform="rotate(-90 78.4 1005.0)" textLength="291" lengthAdjust="spacingAndGlyphs" >Predictive accuracy (%)</text>
<line x1="196.7" y1="1079.0" x2="196.7" y2="1114.7" stroke="#000" stroke-width="3.6" />
<circle cx="196.7" cy="1096.8" r="7.6" fill="#000"/>
<line x1="272.6" y1="1069.7" x2="272.6" y2="1107.6" stroke="#000" stroke-width="3.6" />
<circle cx="272.6" cy="1088.4" r="7.6" fill="#000"/>
<line x1="348.3" y1="868.9" x2="348.3" y2="906.0" stroke="#000" stroke-width="3.6" />
<circle cx="348.3" cy="887.3" r="7.6" fill="#000"/>
<text x="780.0" y="803.5" font-size="26" text-anchor="middle" fill="#000" >Best RL</text>
<text x="780.0" y="835.8" font-size="26.5" text-anchor="middle" fill="#000" textLength="193.5" lengthAdjust="spacingAndGlyphs" ><tspan font-style="italic">Q</tspan>-value update</text>
<path d="M626.0,1204.3 L629.6,1202.8 L632.9,1200.0 L637.0,1195.7 L641.6,1192.4 L645.9,1189.5 L649.3,1188.1 L654.7,1183.4 L658.4,1182.3 L664.1,1178.1 L668.3,1176.3 L671.6,1173.6 L675.5,1168.7 L679.0,1166.8 L684.4,1162.6 L689.1,1160.6 L693.2,1157.4 L696.6,1153.6 L700.3,1152.8 L704.6,1148.7 L709.3,1145.8 L713.3,1144.0 L718.3,1138.8 L723.0,1136.3 L728.5,1133.0 L732.4,1131.0 L735.9,1126.9 L741.1,1122.4 L745.6,1118.9 L750.5,1117.6 L755.2,1114.6 L759.2,1111.2 L764.0,1107.5 L768.4,1105.2 L774.1,1100.0 L779.0,1095.3 L784.1,1093.5 L789.9,1089.9 L793.8,1085.8 L798.8,1081.2 L803.2,1078.6 L806.6,1075.8 L811.8,1072.3 L815.7,1070.4 L821.2,1065.6 L825.5,1063.9 L831.1,1060.8 L836.5,1055.3 L840.8,1052.5 L846.4,1050.4 L849.9,1045.5 L853.7,1043.0 L858.1,1040.9 L862.0,1036.5 L866.3,1034.5 L871.0,1033.0 L876.0,1028.1 L880.8,1025.2 L884.1,1023.5 L889.4,1019.7 L894.7,1014.5 L898.9,1010.7 L903.7,1007.1 L907.1,1005.2 L910.7,1003.1 L914.0,999.7 L917.5,997.5 L921.6,994.4 L927.2,992.2 L928.4,990.3" fill="none" stroke="#b10026" stroke-width="3.3" stroke-linejoin="round" stroke-linecap="butt"/>
<path d="M622.2,1202.8 L626.3,1199.2 L631.8,1198.0 L636.2,1193.4 L639.6,1189.8 L643.6,1187.4 L649.0,1183.3 L652.2,1183.4 L656.8,1177.8 L661.4,1174.1 L666.0,1173.8 L671.5,1169.0 L675.3,1165.3 L678.9,1164.0 L683.5,1160.8 L687.6,1156.2 L692.9,1154.8 L698.4,1150.4 L703.7,1146.4 L707.5,1143.0 L711.6,1138.7 L714.8,1137.1 L718.7,1135.7 L724.4,1130.9 L730.1,1128.5 L735.8,1122.6 L739.6,1119.5 L743.2,1116.8 L748.1,1115.5 L753.5,1110.4 L758.4,1107.9 L761.8,1105.1 L767.4,1101.5 L772.6,1096.9 L776.2,1095.3 L780.2,1092.5 L786.0,1087.2 L790.3,1085.8 L795.4,1079.9 L798.9,1077.3 L804.5,1075.4 L808.0,1072.9 L813.8,1068.3 L817.9,1065.1 L821.4,1061.0 L827.2,1058.8 L831.7,1056.4 L836.1,1053.2 L841.4,1047.4 L845.3,1045.0 L849.1,1043.2 L852.9,1039.9 L856.4,1038.9 L860.5,1034.7 L865.3,1032.7 L869.5,1029.7 L874.0,1025.3 L878.6,1020.6 L882.9,1018.0 L886.1,1017.6 L889.7,1014.1 L894.8,1010.7 L898.9,1007.7 L903.5,1005.3 L906.9,1002.2 L910.8,998.6 L916.0,995.6 L920.7,993.0 L926.3,988.1 L928.4,986.8" fill="none" stroke="#c60624" stroke-width="3.3" stroke-linejoin="round" stroke-linecap="butt"/>
<path d="M622.2,1195.7 L627.2,1192.0 L631.8,1188.8 L637.5,1185.5 L643.0,1182.3 L646.9,1178.4 L652.6,1175.2 L656.1,1170.6 L660.4,1167.4 L664.2,1164.7 L669.2,1163.3 L674.8,1157.5 L679.8,1155.4 L683.4,1153.6 L689.1,1147.5 L694.9,1144.0 L699.3,1142.6 L704.7,1136.3 L709.0,1134.3 L713.1,1130.5 L717.1,1129.3 L720.3,1126.5 L724.7,1121.8 L728.7,1120.8 L733.2,1115.9 L739.0,1113.9 L744.8,1107.8 L748.7,1104.9 L753.9,1101.9 L757.4,1099.8 L763.1,1097.1 L766.9,1092.3 L772.5,1089.6 L777.6,1084.6 L780.9,1084.1 L785.2,1079.2 L790.9,1076.9 L796.2,1071.4 L801.6,1067.5 L807.1,1064.8 L811.2,1062.2 L816.8,1057.4 L820.3,1055.7 L824.1,1051.8 L827.7,1049.0 L831.4,1047.2 L835.4,1045.7 L839.3,1042.2 L842.9,1039.2 L846.1,1036.6 L849.3,1035.8 L854.0,1030.9 L858.4,1030.0 L861.8,1027.2 L866.2,1023.2 L871.6,1019.1 L876.1,1016.8 L881.9,1011.6 L887.3,1008.9 L892.1,1004.5 L896.2,1000.6 L899.7,998.2 L904.9,995.1 L908.5,992.0 L913.9,990.6 L918.9,985.3 L922.7,982.6 L927.1,979.1 L928.4,978.5" fill="none" stroke="#d7121f" stroke-width="3.3" stroke-linejoin="round" stroke-linecap="butt"/>
<path d="M622.2,1189.1 L628.0,1183.8 L631.8,1182.3 L635.8,1177.7 L638.9,1175.5 L643.4,1172.7 L647.0,1170.1 L650.2,1167.2 L653.6,1165.2 L656.9,1161.8 L660.8,1159.6 L665.6,1157.1 L670.7,1153.8 L675.8,1150.9 L680.0,1146.3 L685.8,1141.7 L690.9,1139.5 L694.2,1137.8 L699.8,1133.2 L704.9,1130.2 L708.4,1126.8 L712.9,1124.5 L718.3,1120.8 L723.0,1117.6 L728.0,1113.5 L731.8,1108.8 L735.3,1107.3 L738.7,1106.3 L743.4,1102.4 L748.2,1099.2 L752.7,1094.0 L758.0,1092.4 L762.5,1088.6 L767.4,1083.7 L772.5,1080.7 L775.9,1078.3 L781.0,1074.5 L786.2,1073.2 L790.7,1068.2 L795.1,1066.0 L800.3,1062.1 L805.2,1057.0 L808.7,1055.1 L813.9,1051.6 L818.6,1047.4 L821.9,1045.8 L826.9,1043.6 L831.8,1038.8 L836.4,1036.2 L840.8,1032.0 L846.4,1028.3 L852.1,1026.4 L855.3,1022.7 L860.7,1020.5 L865.1,1015.3 L868.8,1014.7 L872.5,1011.0 L876.0,1008.3 L881.8,1003.1 L887.1,1000.4 L892.7,997.1 L896.4,995.0 L900.9,989.2 L904.1,988.4 L908.4,984.7 L912.0,982.4 L916.0,981.0 L919.1,978.5 L924.5,972.8 L928.4,971.8" fill="none" stroke="#e7211e" stroke-width="3.3" stroke-linejoin="round" stroke-linecap="butt"/>
<path d="M622.2,1182.8 L626.1,1178.4 L630.3,1177.3 L635.1,1172.1 L639.4,1168.8 L642.7,1165.9 L648.1,1162.7 L653.7,1158.5 L657.6,1156.6 L661.3,1153.6 L667.0,1151.1 L672.4,1146.5 L678.0,1143.5 L682.6,1139.6 L685.9,1137.3 L690.3,1134.2 L695.1,1129.4 L698.4,1129.0 L701.9,1125.2 L706.0,1121.7 L711.1,1120.1 L715.0,1116.5 L719.0,1113.4 L723.2,1109.2 L726.8,1106.8 L732.4,1103.7 L736.1,1102.3 L741.9,1096.8 L745.5,1093.5 L748.9,1091.6 L752.3,1088.9 L756.1,1087.1 L761.7,1083.7 L765.9,1079.7 L770.5,1076.4 L774.5,1072.6 L778.4,1072.5 L781.9,1068.7 L786.8,1066.3 L790.5,1061.9 L794.3,1059.6 L798.7,1058.2 L804.1,1054.1 L807.3,1049.3 L812.4,1048.3 L816.8,1044.2 L820.0,1041.4 L825.6,1038.7 L831.1,1035.3 L834.9,1030.0 L838.5,1028.7 L843.5,1026.5 L848.6,1022.0 L853.8,1017.7 L858.4,1013.2 L863.7,1010.1 L869.3,1007.3 L873.3,1002.9 L877.1,1001.8 L882.2,996.6 L885.5,995.5 L890.2,991.8 L894.0,989.7 L897.2,986.6 L901.6,985.5 L906.4,981.8 L910.9,976.7 L914.7,976.2 L919.7,970.6 L923.0,968.9 L927.9,965.2 L928.4,965.6" fill="none" stroke="#f23924" stroke-width="3.3" stroke-linejoin="round" stroke-linecap="butt"/>
<path d="M622.2,1176.8 L626.0,1171.4 L630.0,1169.7 L635.0,1165.5 L640.3,1163.4 L644.8,1158.6 L650.6,1154.9 L656.0,1150.8 L659.7,1149.8 L663.7,1147.5 L668.1,1142.1 L671.9,1140.1 L676.8,1138.2 L680.4,1134.0 L684.1,1133.1 L687.7,1127.9 L691.0,1126.6 L696.5,1124.1 L701.7,1120.8 L707.3,1114.8 L711.0,1114.0 L716.1,1107.7 L721.1,1105.2 L725.3,1102.1 L728.9,1098.6 L732.8,1096.9 L738.5,1092.1 L744.2,1088.3 L748.4,1087.3 L753.7,1082.3 L757.0,1080.1 L761.2,1078.5 L764.8,1074.2 L770.4,1069.3 L774.7,1068.6 L779.9,1062.6 L783.1,1060.4 L788.8,1057.0 L793.9,1055.3 L798.0,1050.5 L803.7,1047.5 L807.6,1045.1 L811.6,1040.9 L814.8,1040.1 L820.4,1035.8 L826.1,1029.9 L829.9,1028.6 L835.6,1026.0 L839.8,1020.9 L844.1,1018.6 L849.8,1013.7 L855.1,1011.6 L860.4,1007.9 L865.2,1003.1 L869.2,1000.4 L874.5,995.8 L878.2,995.3 L882.0,990.5 L885.3,989.7 L889.3,988.1 L894.8,984.2 L898.7,978.8 L902.1,977.6 L907.2,973.9 L910.9,971.1 L915.8,968.5 L920.9,965.3 L925.9,959.6 L928.4,958.4" fill="none" stroke="#fc512b" stroke-width="3.3" stroke-linejoin="round" stroke-linecap="butt"/>
<path d="M622.2,1168.2 L626.4,1165.8 L630.0,1161.7 L633.9,1158.7 L639.4,1156.1 L643.4,1152.7 L649.3,1148.9 L653.0,1147.1 L657.9,1144.2 L661.4,1140.2 L666.7,1137.5 L672.4,1131.2 L676.3,1128.6 L680.0,1128.6 L684.7,1125.1 L688.8,1122.0 L693.2,1117.1 L698.4,1115.4 L701.9,1111.9 L706.7,1107.4 L710.9,1104.2 L714.6,1102.0 L719.3,1099.8 L723.0,1095.2 L727.1,1094.4 L730.7,1090.7 L734.4,1089.6 L739.0,1084.1 L742.5,1082.7 L747.1,1080.1 L750.5,1076.3 L755.5,1073.5 L759.4,1070.4 L765.2,1066.4 L769.8,1063.2 L774.1,1061.7 L779.9,1056.1 L783.6,1054.5 L787.3,1049.8 L792.9,1047.1 L798.3,1043.2 L803.8,1039.5 L807.4,1035.6 L812.0,1034.2 L817.6,1028.6 L822.5,1026.0 L827.0,1022.1 L830.9,1020.5 L836.6,1015.3 L841.0,1014.2 L846.8,1008.3 L850.3,1008.1 L856.1,1002.6 L859.4,1001.6 L863.6,998.6 L868.4,994.9 L872.0,992.3 L875.7,988.5 L881.2,985.9 L884.8,981.5 L889.0,979.4 L893.2,975.3 L897.0,974.4 L902.6,968.4 L907.3,967.2 L910.5,965.2 L914.0,962.0 L918.6,958.8 L922.6,955.4 L927.3,952.0 L928.4,951.3" fill="none" stroke="#fc6d33" stroke-width="3.3" stroke-linejoin="round" stroke-linecap="butt"/>
<path d="M622.2,1159.3 L625.4,1157.6 L629.9,1153.3 L635.1,1151.2 L639.5,1146.3 L643.9,1143.0 L647.4,1141.5 L650.8,1139.1 L655.3,1134.7 L660.2,1131.4 L665.3,1129.8 L669.9,1124.5 L674.4,1122.2 L680.1,1117.5 L685.6,1116.2 L690.7,1112.0 L694.4,1109.9 L698.8,1106.7 L704.5,1100.3 L709.7,1098.9 L713.1,1094.8 L718.3,1090.6 L723.8,1087.0 L729.2,1082.8 L733.7,1081.9 L737.4,1077.3 L741.9,1074.3 L745.2,1071.6 L748.7,1071.3 L753.7,1067.7 L757.3,1064.8 L760.8,1061.6 L765.7,1057.6 L771.2,1054.3 L775.9,1052.0 L779.3,1049.9 L784.2,1044.7 L789.5,1040.5 L795.3,1037.3 L799.4,1035.0 L803.8,1030.2 L808.9,1026.1 L814.3,1022.9 L819.2,1021.7 L823.9,1017.4 L827.9,1012.6 L831.1,1010.7 L835.9,1008.2 L840.5,1006.4 L844.0,1001.9 L848.9,997.8 L852.1,996.5 L855.5,994.1 L859.2,992.1 L864.0,987.7 L868.8,985.0 L872.3,983.9 L876.1,978.9 L879.6,978.0 L885.1,974.5 L889.3,969.9 L892.5,968.8 L897.1,964.7 L902.0,961.5 L907.7,958.3 L911.5,956.1 L914.8,952.7 L919.0,948.8 L922.4,948.1 L925.5,945.2 L928.4,941.9" fill="none" stroke="#fd893b" stroke-width="3.3" stroke-linejoin="round" stroke-linecap="butt"/>
<path d="M622.2,1149.7 L627.0,1147.2 L631.9,1144.7 L635.5,1140.6 L639.5,1137.0 L645.0,1135.3 L650.1,1129.4 L655.5,1127.8 L659.9,1124.7 L664.3,1120.0 L667.7,1117.6 L671.0,1115.6 L676.2,1113.0 L681.6,1109.2 L685.5,1106.0 L689.8,1103.7 L694.4,1098.9 L699.2,1097.5 L703.0,1094.6 L706.2,1090.5 L709.9,1089.3 L715.6,1085.3 L719.7,1082.8 L723.7,1078.0 L729.3,1075.3 L734.3,1071.8 L740.1,1067.1 L745.6,1064.0 L751.0,1059.3 L756.1,1056.1 L760.1,1052.2 L764.9,1048.4 L770.5,1044.6 L773.8,1042.3 L779.4,1039.0 L783.0,1035.5 L786.2,1035.2 L791.1,1031.8 L796.2,1026.3 L801.0,1023.8 L806.3,1021.4 L811.9,1015.2 L817.4,1013.8 L823.1,1007.4 L826.8,1004.8 L830.0,1004.7 L835.4,1000.3 L840.7,996.5 L844.7,992.1 L848.1,991.7 L851.8,987.7 L856.1,983.8 L859.9,981.9 L865.0,978.5 L869.0,977.5 L873.5,974.0 L878.3,968.1 L882.6,966.3 L887.9,962.3 L892.9,959.3 L896.6,957.6 L900.0,955.1 L903.6,950.1 L907.3,949.8 L913.1,943.4 L917.6,941.7 L922.9,937.0 L927.4,934.4 L928.4,933.4" fill="none" stroke="#fd9b42" stroke-width="3.3" stroke-linejoin="round" stroke-linecap="butt"/>
<path d="M622.2,1145.8 L626.1,1140.9 L631.2,1138.2 L634.6,1136.1 L638.0,1134.2 L643.0,1130.7 L647.8,1125.9 L652.1,1123.1 L657.6,1118.2 L663.2,1114.1 L666.9,1112.2 L672.5,1109.0 L676.6,1107.2 L680.4,1103.2 L685.0,1100.9 L690.2,1096.9 L694.3,1093.0 L697.9,1092.0 L702.8,1088.2 L706.4,1084.8 L711.6,1081.5 L715.1,1078.7 L720.7,1074.1 L724.3,1071.7 L729.4,1069.7 L733.0,1065.2 L736.8,1063.0 L741.3,1059.2 L745.4,1056.5 L751.2,1054.0 L754.6,1052.3 L758.0,1048.1 L763.8,1045.3 L768.9,1040.6 L772.6,1038.6 L776.1,1034.8 L780.3,1031.3 L784.5,1030.6 L789.5,1026.2 L794.4,1022.7 L797.9,1020.6 L802.1,1018.0 L807.7,1013.1 L812.4,1010.7 L816.7,1006.1 L821.8,1004.5 L827.1,1000.2 L832.5,996.3 L837.4,992.2 L841.4,989.9 L844.8,986.9 L850.1,984.0 L854.9,979.2 L859.2,976.8 L864.0,973.2 L869.0,971.3 L872.7,967.9 L877.9,963.4 L882.4,962.0 L885.6,958.4 L889.2,956.5 L894.9,951.7 L898.3,949.5 L902.9,946.7 L907.5,943.2 L912.9,939.0 L917.1,937.3 L920.8,933.9 L925.0,931.2 L928.4,929.5" fill="none" stroke="#feac49" stroke-width="3.3" stroke-linejoin="round" stroke-linecap="butt"/>
<path d="M622.2,1136.1 L625.5,1133.5 L629.7,1129.7 L634.0,1127.9 L639.0,1124.1 L642.9,1121.0 L648.1,1119.5 L652.6,1114.1 L658.0,1110.9 L661.7,1107.5 L666.9,1105.8 L671.8,1101.3 L676.5,1097.3 L682.2,1093.6 L687.1,1091.6 L692.4,1086.7 L696.4,1084.2 L699.9,1082.6 L704.0,1079.7 L707.8,1075.6 L711.7,1073.0 L715.3,1069.2 L720.4,1066.4 L724.2,1063.8 L728.7,1061.0 L733.6,1058.2 L737.7,1056.1 L743.1,1049.7 L748.5,1048.4 L753.8,1042.4 L759.2,1040.0 L762.4,1035.9 L768.1,1033.8 L771.9,1029.4 L775.5,1027.3 L780.7,1024.0 L784.3,1023.1 L789.6,1017.2 L795.1,1014.6 L800.4,1011.0 L805.9,1007.5 L811.4,1001.9 L816.4,999.3 L821.5,995.4 L827.1,991.8 L830.9,988.1 L834.4,986.4 L837.8,984.0 L841.3,981.6 L845.8,978.5 L851.3,973.1 L856.7,970.6 L861.4,967.9 L866.8,963.2 L871.1,961.9 L874.4,958.6 L879.3,953.3 L884.1,951.9 L889.7,946.8 L895.5,943.3 L900.0,941.3 L903.2,938.4 L908.1,933.9 L913.6,930.1 L918.0,927.4 L923.2,922.8 L927.5,920.4 L928.4,921.0" fill="none" stroke="#febd58" stroke-width="3.3" stroke-linejoin="round" stroke-linecap="butt"/>
<path d="M622.2,1128.9 L627.6,1125.4 L632.1,1121.8 L636.6,1120.7 L641.5,1116.7 L645.6,1112.4 L649.5,1110.4 L654.4,1107.6 L657.7,1105.1 L663.2,1100.7 L666.5,1097.6 L669.6,1095.0 L675.3,1092.3 L680.2,1089.4 L685.8,1084.9 L690.6,1081.5 L695.7,1077.8 L700.7,1073.2 L705.6,1070.4 L710.8,1065.7 L714.4,1062.9 L719.7,1061.8 L724.6,1056.7 L730.0,1054.2 L734.7,1049.3 L738.6,1047.0 L742.6,1044.1 L747.5,1042.2 L750.8,1038.8 L754.1,1035.1 L759.4,1032.7 L765.0,1028.4 L768.2,1025.9 L773.0,1024.2 L778.8,1018.7 L783.0,1014.6 L787.9,1011.5 L791.5,1008.4 L794.6,1008.1 L798.1,1006.5 L801.5,1003.8 L805.0,998.8 L810.1,995.9 L815.2,992.1 L818.5,991.5 L823.6,988.2 L828.7,982.2 L833.6,980.7 L838.0,978.2 L841.8,975.6 L846.9,969.2 L850.1,968.8 L855.4,963.3 L859.4,962.5 L863.0,960.3 L867.5,954.8 L871.6,953.4 L875.9,950.6 L879.5,948.5 L883.6,945.1 L888.5,941.0 L892.7,939.1 L898.4,935.1 L903.0,930.3 L906.4,930.0 L911.4,926.0 L915.5,922.5 L921.2,919.1 L926.0,914.1 L928.4,914.2" fill="none" stroke="#fece6b" stroke-width="3.3" stroke-linejoin="round" stroke-linecap="butt"/>
<path d="M622.2,1123.4 L627.2,1120.6 L632.8,1117.2 L636.7,1112.1 L640.5,1110.6 L645.3,1108.4 L650.8,1102.2 L656.2,1100.7 L661.7,1096.1 L665.6,1094.2 L670.9,1089.9 L676.6,1084.9 L679.9,1083.1 L685.2,1078.3 L690.4,1076.9 L694.2,1073.2 L699.2,1069.3 L702.9,1066.0 L708.1,1064.0 L712.4,1058.8 L717.8,1057.0 L721.6,1053.8 L727.1,1050.8 L731.7,1046.3 L736.4,1042.1 L740.1,1039.5 L745.1,1036.5 L749.8,1033.3 L754.4,1029.3 L757.6,1029.5 L761.8,1023.9 L766.6,1022.5 L770.2,1019.4 L774.3,1016.3 L777.5,1012.6 L783.3,1011.0 L787.8,1006.9 L791.6,1004.8 L795.9,1002.3 L801.2,998.2 L806.9,992.5 L810.2,990.0 L813.8,987.1 L817.1,986.2 L822.6,982.0 L828.3,979.3 L831.6,976.0 L835.9,971.6 L841.6,967.9 L846.3,965.8 L852.0,961.8 L856.2,958.2 L859.8,957.2 L865.6,950.9 L868.9,948.7 L873.0,947.7 L878.6,943.5 L881.8,941.1 L886.9,937.1 L892.7,931.2 L896.3,930.8 L901.9,926.5 L905.9,923.5 L911.1,918.3 L915.1,916.0 L918.6,914.2 L922.2,910.9 L925.8,909.7 L928.4,908.0" fill="none" stroke="#fedd7d" stroke-width="3.3" stroke-linejoin="round" stroke-linecap="butt"/>
<path d="M622.2,1115.9 L625.4,1115.8 L629.2,1113.2 L634.7,1109.1 L638.2,1105.3 L641.6,1104.4 L647.0,1099.6 L651.4,1095.7 L656.8,1092.3 L661.6,1087.8 L665.4,1084.9 L670.5,1082.8 L674.0,1081.3 L677.9,1077.2 L681.4,1074.2 L686.9,1070.6 L690.5,1068.5 L694.5,1066.9 L697.9,1064.7 L701.2,1062.1 L706.2,1056.6 L710.6,1053.6 L714.5,1050.7 L718.6,1050.1 L724.5,1045.8 L727.9,1041.5 L733.4,1036.8 L738.5,1033.9 L744.3,1029.0 L749.7,1026.2 L753.2,1022.7 L758.6,1020.4 L762.2,1017.6 L767.9,1013.0 L772.5,1009.4 L776.2,1008.7 L781.3,1003.4 L784.6,1000.7 L789.4,998.6 L793.3,994.9 L798.1,993.0 L803.4,988.9 L807.1,984.7 L812.3,982.1 L817.4,977.5 L822.7,974.5 L828.1,972.3 L832.6,966.6 L838.2,964.0 L843.7,959.5 L847.4,958.6 L851.5,953.6 L855.7,952.0 L858.8,949.5 L863.2,946.5 L866.7,944.6 L872.0,941.3 L876.0,938.0 L880.2,935.1 L883.5,933.1 L889.3,928.0 L893.8,924.9 L898.4,920.1 L904.2,916.6 L907.8,913.7 L911.6,913.1 L914.9,908.7 L919.9,905.4 L923.1,904.4 L927.8,900.8 L928.4,899.1" fill="none" stroke="#ffe590" stroke-width="3.3" stroke-linejoin="round" stroke-linecap="butt"/>
<path d="M622.2,1109.4 L627.3,1103.3 L630.8,1102.2 L635.3,1098.4 L638.7,1096.3 L642.3,1094.4 L647.7,1089.2 L652.4,1087.7 L656.0,1085.4 L661.7,1080.0 L666.0,1078.3 L670.6,1073.8 L676.3,1070.9 L680.3,1066.4 L684.4,1064.1 L690.2,1061.1 L695.8,1057.2 L701.2,1051.1 L705.8,1050.6 L711.5,1044.4 L715.7,1042.6 L719.9,1039.3 L723.2,1036.7 L727.7,1032.2 L731.3,1032.6 L736.5,1028.8 L741.4,1025.0 L746.9,1021.3 L750.1,1018.3 L754.0,1015.6 L757.9,1012.5 L763.5,1008.7 L767.4,1005.7 L771.7,1004.0 L775.6,999.2 L780.5,995.2 L785.3,994.4 L789.8,989.1 L794.2,986.8 L797.8,983.0 L801.3,981.1 L805.5,978.0 L809.3,974.8 L814.0,973.7 L818.7,969.5 L823.7,965.0 L828.7,962.2 L833.4,959.3 L837.8,955.3 L841.6,952.4 L846.1,949.6 L850.8,945.2 L854.9,944.8 L858.7,941.2 L863.2,937.2 L869.0,933.2 L874.3,929.1 L877.6,928.8 L881.9,923.3 L886.1,921.5 L891.3,916.9 L895.0,916.8 L900.2,910.7 L904.2,908.5 L909.2,905.7 L914.6,902.5 L919.2,899.0 L924.3,895.4 L928.4,892.7" fill="none" stroke="#ffeea3" stroke-width="3.3" stroke-linejoin="round" stroke-linecap="butt"/>
<path d="M622.2,1103.8 L627.8,1098.1 L633.3,1093.8 L638.5,1091.9 L643.0,1089.9 L647.7,1084.9 L653.0,1082.5 L657.8,1077.7 L662.2,1074.8 L667.3,1070.7 L671.5,1068.5 L675.6,1064.9 L680.9,1062.7 L685.4,1058.3 L689.1,1055.3 L692.6,1053.6 L697.3,1048.8 L703.0,1045.6 L708.4,1043.3 L714.1,1037.3 L718.4,1036.4 L721.6,1031.6 L726.3,1029.6 L731.9,1026.4 L736.5,1023.9 L741.1,1019.2 L746.1,1015.3 L750.2,1013.0 L754.3,1011.2 L759.3,1006.4 L762.7,1003.5 L766.9,1001.1 L771.6,998.7 L777.4,993.4 L781.7,990.8 L787.5,985.8 L792.1,984.0 L795.7,980.0 L801.5,977.4 L806.1,972.0 L811.6,969.8 L817.0,966.9 L822.5,961.3 L826.1,958.4 L830.6,955.8 L834.3,952.3 L839.2,950.1 L843.3,948.4 L848.1,942.1 L852.4,941.3 L856.4,938.2 L859.5,934.8 L865.0,931.8 L869.9,927.1 L874.4,925.0 L878.3,922.6 L882.9,920.4 L887.6,915.3 L891.0,912.1 L896.2,908.3 L899.7,906.0 L904.2,904.8 L909.0,901.3 L912.3,896.6 L917.6,893.8 L922.6,890.3 L926.3,887.5 L928.4,887.9" fill="none" stroke="#fff6b7" stroke-width="3.3" stroke-linejoin="round" stroke-linecap="butt"/>
<line x1="621.8" y1="1166.1" x2="948.7" y2="1166.1" stroke="#000" stroke-width="2.2" stroke-dasharray="8.5 5.5"/>
<text x="957.3" y="1176.5" font-size="26" text-anchor="start" fill="#000" ><tspan font-style="italic">Q</tspan><tspan dy="7.5" font-size="19.5">init</tspan></text>
<path d="M606.3,868.7 V1225 H953.2" fill="none" stroke="#383838" stroke-width="1.8"/>
<line x1="596.6" y1="880.9" x2="606.3" y2="880.9" stroke="#383838" stroke-width="1.8" />
<text x="584.5" y="889.1" font-size="24.5" text-anchor="end" fill="#000" textLength="44.4" lengthAdjust="spacingAndGlyphs" >1.00</text>
<line x1="596.6" y1="964.2" x2="606.3" y2="964.2" stroke="#383838" stroke-width="1.8" />
<text x="584.5" y="972.4" font-size="24.5" text-anchor="end" fill="#000" textLength="44.4" lengthAdjust="spacingAndGlyphs" >0.75</text>
<line x1="596.6" y1="1047.4" x2="606.3" y2="1047.4" stroke="#383838" stroke-width="1.8" />
<text x="584.5" y="1055.6" font-size="24.5" text-anchor="end" fill="#000" textLength="44.4" lengthAdjust="spacingAndGlyphs" >0.50</text>
<line x1="596.6" y1="1130.7" x2="606.3" y2="1130.7" stroke="#383838" stroke-width="1.8" />
<text x="584.5" y="1138.9" font-size="24.5" text-anchor="end" fill="#000" textLength="44.4" lengthAdjust="spacingAndGlyphs" >0.25</text>
<line x1="596.6" y1="1213.9" x2="606.3" y2="1213.9" stroke="#383838" stroke-width="1.8" />
<text x="584.5" y="1222.1" font-size="24.5" text-anchor="end" fill="#000" >0</text>
<line x1="621.8" y1="1225.0" x2="621.8" y2="1235.0" stroke="#383838" stroke-width="1.8" />
<text x="621.8" y="1264.3" font-size="25" text-anchor="middle" fill="#000" >0</text>
<line x1="700.9" y1="1225.0" x2="700.9" y2="1235.0" stroke="#383838" stroke-width="1.8" />
<text x="700.9" y="1264.3" font-size="25" text-anchor="middle" fill="#000" >25</text>
<line x1="780.0" y1="1225.0" x2="780.0" y2="1235.0" stroke="#383838" stroke-width="1.8" />
<text x="780.0" y="1264.3" font-size="25" text-anchor="middle" fill="#000" >50</text>
<line x1="859.2" y1="1225.0" x2="859.2" y2="1235.0" stroke="#383838" stroke-width="1.8" />
<text x="859.2" y="1264.3" font-size="25" text-anchor="middle" fill="#000" >75</text>
<line x1="938.3" y1="1225.0" x2="938.3" y2="1235.0" stroke="#383838" stroke-width="1.8" />
<text x="938.3" y="1264.3" font-size="25" text-anchor="middle" fill="#000" >100</text>
<text x="780.0" y="1295.0" font-size="27" text-anchor="middle" fill="#000" >Reward <tspan font-style="italic">r</tspan><tspan baseline-shift="-9.2" font-size="17.8"><tspan font-style="italic">t</tspan></tspan></text>
<text x="512.9" y="1046.5" font-size="27" text-anchor="middle" transform="rotate(-90 512.9 1046.5)" textLength="164" lengthAdjust="spacingAndGlyphs" >Value Q<tspan baseline-shift="-9.2" font-size="17.8"><tspan font-style="italic">t</tspan>+1</tspan>(a<tspan baseline-shift="-9.2" font-size="17.8"><tspan font-style="italic">t</tspan></tspan>)</text>
<text x="1248.7" y="803.8" font-size="26" text-anchor="middle" fill="#000" >RL-ANN</text>
<text x="1249.0" y="836.6" font-size="26.5" text-anchor="middle" fill="#000" textLength="193.5" lengthAdjust="spacingAndGlyphs" ><tspan font-style="italic">Q</tspan>-value update</text>
<path d="M1072.6,1207.0 L1076.7,1203.4 L1080.9,1199.3 L1086.4,1195.9 L1092.2,1191.1 L1097.0,1186.9 L1100.3,1185.7 L1105.7,1180.3 L1111.3,1176.9 L1115.3,1173.4 L1121.0,1168.8 L1126.7,1164.0 L1130.9,1161.7 L1134.7,1158.1 L1140.2,1154.3 L1145.5,1149.8 L1149.1,1147.4 L1152.8,1145.9 L1156.7,1142.1 L1160.2,1139.5 L1164.3,1136.2 L1167.7,1133.2 L1173.1,1129.8 L1176.9,1126.7 L1180.8,1124.0 L1184.0,1122.5 L1188.1,1118.6 L1193.2,1114.8 L1197.0,1113.6 L1200.5,1110.3 L1205.9,1107.3 L1209.5,1103.9 L1214.6,1100.4 L1220.3,1096.1 L1226.1,1092.7 L1229.8,1090.1 L1233.3,1088.2 L1237.2,1086.0 L1241.9,1081.7 L1245.7,1079.6 L1249.5,1077.7 L1252.9,1074.7 L1257.6,1071.1 L1262.8,1067.9 L1267.7,1065.1 L1271.7,1062.1 L1275.1,1059.5 L1280.5,1056.3 L1285.5,1052.7 L1290.1,1050.2 L1294.6,1047.3 L1298.0,1045.2 L1301.7,1042.5 L1306.8,1039.6 L1311.1,1038.3 L1316.3,1035.0 L1321.8,1030.1 L1325.7,1027.6 L1330.7,1025.8 L1334.8,1022.8 L1339.7,1020.5 L1343.5,1018.5 L1347.6,1015.6 L1351.2,1012.5 L1356.9,1010.4 L1361.9,1006.1 L1365.2,1004.5 L1368.9,1002.6 L1373.1,999.7 L1377.0,998.7 L1380.7,997.0 L1385.4,994.1 L1389.2,991.4 L1394.2,988.5 L1397.4,987.7 L1402.6,983.7 L1405.9,983.1 L1410.7,978.9 L1414.5,977.0 L1416.6,976.0" fill="none" stroke="#b10026" stroke-width="3.3" stroke-linejoin="round" stroke-linecap="butt"/>
<path d="M1072.6,1185.3 L1077.8,1179.9 L1082.8,1176.9 L1088.0,1174.0 L1091.9,1169.7 L1097.6,1166.3 L1103.2,1162.9 L1108.4,1159.5 L1113.2,1155.3 L1116.5,1153.5 L1120.8,1150.1 L1126.5,1145.5 L1131.7,1141.7 L1136.7,1139.8 L1140.6,1136.6 L1146.4,1132.9 L1151.0,1129.0 L1154.3,1127.0 L1158.6,1123.8 L1162.5,1121.0 L1167.6,1118.7 L1171.4,1115.3 L1175.9,1112.8 L1181.6,1108.8 L1185.6,1107.3 L1189.1,1104.4 L1193.2,1102.3 L1197.8,1099.2 L1201.4,1096.7 L1206.2,1093.3 L1211.4,1090.7 L1214.8,1087.4 L1219.0,1084.7 L1222.3,1082.8 L1226.0,1081.3 L1230.3,1077.4 L1234.3,1075.7 L1238.5,1072.5 L1241.8,1070.2 L1247.6,1068.1 L1251.0,1066.0 L1256.8,1062.2 L1260.3,1060.0 L1264.6,1056.8 L1269.2,1053.7 L1274.8,1051.7 L1279.7,1049.4 L1284.6,1045.2 L1288.4,1042.8 L1291.6,1042.2 L1297.0,1038.1 L1300.7,1036.7 L1306.1,1034.2 L1309.7,1031.9 L1315.1,1028.8 L1319.2,1025.4 L1324.5,1022.7 L1328.7,1020.9 L1332.8,1019.2 L1336.6,1015.5 L1341.3,1014.2 L1346.7,1011.5 L1352.3,1009.0 L1356.8,1005.7 L1360.3,1003.4 L1365.0,1000.5 L1370.1,998.0 L1374.4,997.4 L1377.8,993.8 L1382.1,991.9 L1387.2,988.9 L1392.7,987.9 L1397.9,984.4 L1401.8,982.9 L1406.4,980.2 L1410.4,978.2 L1415.4,976.5 L1416.6,974.6" fill="none" stroke="#c30424" stroke-width="3.3" stroke-linejoin="round" stroke-linecap="butt"/>
<path d="M1072.6,1160.4 L1076.9,1158.1 L1081.0,1154.7 L1084.4,1152.8 L1088.8,1151.3 L1094.4,1147.5 L1100.2,1144.0 L1105.0,1140.6 L1108.3,1138.3 L1113.1,1134.5 L1117.8,1132.9 L1122.3,1129.5 L1126.2,1126.4 L1131.8,1122.4 L1135.4,1121.4 L1139.8,1117.6 L1144.7,1115.2 L1149.4,1112.4 L1154.0,1109.9 L1158.2,1106.5 L1161.9,1105.9 L1166.5,1101.6 L1172.0,1098.6 L1175.4,1097.2 L1179.2,1094.9 L1183.9,1091.6 L1188.6,1088.7 L1193.1,1087.0 L1196.5,1084.7 L1199.8,1082.9 L1205.3,1080.0 L1210.4,1077.5 L1213.8,1076.0 L1218.9,1071.4 L1224.3,1068.9 L1227.9,1068.1 L1232.6,1065.1 L1236.1,1063.2 L1239.4,1060.3 L1243.6,1057.6 L1248.3,1055.4 L1252.3,1054.3 L1256.6,1052.3 L1261.4,1049.7 L1266.1,1047.3 L1271.6,1042.9 L1276.8,1040.5 L1282.0,1038.5 L1287.3,1034.6 L1291.5,1033.7 L1297.2,1030.7 L1300.5,1028.8 L1303.9,1027.0 L1309.2,1023.4 L1314.9,1021.7 L1318.7,1018.9 L1323.1,1018.0 L1327.8,1014.2 L1331.0,1012.6 L1336.3,1010.2 L1340.9,1008.2 L1345.9,1005.9 L1349.5,1005.2 L1354.1,1002.7 L1359.4,1000.7 L1362.6,998.0 L1366.2,996.6 L1371.7,994.7 L1374.9,991.9 L1380.3,990.5 L1384.5,988.1 L1388.1,987.2 L1392.3,985.4 L1397.1,981.7 L1401.1,980.1 L1406.7,978.4 L1410.0,976.1 L1414.1,974.9 L1416.6,973.7" fill="none" stroke="#d00d21" stroke-width="3.3" stroke-linejoin="round" stroke-linecap="butt"/>
<path d="M1072.6,1139.4 L1075.8,1138.0 L1079.8,1134.5 L1084.2,1133.9 L1087.5,1130.3 L1092.4,1127.7 L1096.3,1125.9 L1100.2,1123.8 L1104.8,1122.0 L1110.6,1116.9 L1115.3,1115.7 L1120.8,1112.6 L1125.6,1109.6 L1129.8,1106.6 L1135.0,1104.9 L1140.7,1101.4 L1144.7,1099.3 L1149.9,1096.0 L1154.7,1093.1 L1159.4,1090.7 L1162.7,1088.8 L1166.7,1087.9 L1171.1,1084.3 L1174.9,1082.0 L1179.0,1079.7 L1182.2,1079.5 L1186.6,1076.3 L1191.3,1073.6 L1194.9,1071.3 L1198.8,1069.7 L1203.9,1067.6 L1209.6,1064.2 L1215.3,1061.9 L1218.6,1059.3 L1223.4,1058.6 L1227.5,1056.1 L1231.8,1054.1 L1235.1,1051.7 L1240.7,1048.6 L1244.5,1046.2 L1248.1,1044.9 L1253.2,1042.3 L1257.4,1040.3 L1262.2,1039.3 L1267.1,1035.6 L1272.2,1034.7 L1277.0,1030.7 L1282.3,1029.8 L1286.4,1026.4 L1290.0,1025.5 L1295.6,1023.2 L1301.2,1019.7 L1305.2,1018.9 L1310.1,1016.0 L1315.1,1013.6 L1318.4,1012.3 L1321.7,1011.3 L1325.8,1009.2 L1330.5,1006.6 L1334.9,1004.2 L1340.6,1002.9 L1346.4,999.3 L1351.2,998.6 L1355.2,995.6 L1358.8,994.2 L1364.0,991.9 L1369.4,990.3 L1374.0,988.7 L1378.6,986.9 L1383.4,984.3 L1388.5,982.0 L1393.6,981.0 L1398.9,978.0 L1404.1,977.2 L1408.5,974.1 L1413.0,973.6 L1416.5,970.3 L1416.6,971.6" fill="none" stroke="#de161d" stroke-width="3.3" stroke-linejoin="round" stroke-linecap="butt"/>
<path d="M1072.6,1115.2 L1076.7,1113.6 L1080.5,1111.2 L1083.9,1108.1 L1087.4,1106.4 L1091.9,1105.2 L1095.5,1104.1 L1099.7,1100.5 L1103.3,1099.9 L1108.9,1096.0 L1112.2,1095.7 L1116.0,1094.2 L1120.5,1091.4 L1124.6,1089.7 L1129.0,1086.7 L1134.5,1083.6 L1139.7,1081.1 L1144.6,1079.4 L1150.0,1076.2 L1154.7,1074.7 L1160.4,1073.2 L1165.2,1069.5 L1169.0,1067.8 L1173.3,1065.8 L1177.0,1065.2 L1181.9,1062.0 L1187.8,1059.2 L1192.5,1057.0 L1197.9,1056.0 L1201.8,1054.1 L1207.2,1050.8 L1211.2,1049.4 L1216.8,1046.3 L1221.8,1045.0 L1226.1,1043.1 L1231.7,1040.0 L1237.2,1038.0 L1242.5,1036.7 L1246.1,1035.2 L1251.9,1031.6 L1255.2,1029.9 L1260.9,1027.3 L1266.6,1025.3 L1271.7,1023.1 L1275.3,1022.8 L1278.7,1020.7 L1284.3,1019.2 L1289.9,1017.5 L1293.1,1014.8 L1298.4,1013.6 L1301.6,1011.9 L1305.4,1010.3 L1308.8,1008.1 L1314.7,1006.5 L1320.2,1004.0 L1324.7,1002.3 L1329.0,1000.7 L1334.0,998.8 L1339.1,997.5 L1342.6,996.0 L1347.0,995.4 L1351.1,992.5 L1356.9,991.7 L1362.0,988.6 L1365.7,987.3 L1369.0,985.7 L1373.5,984.8 L1378.2,983.0 L1381.3,982.5 L1386.3,980.5 L1390.9,979.2 L1396.7,977.5 L1401.8,974.8 L1405.8,973.5 L1411.6,971.5 L1415.8,970.1 L1416.6,971.0" fill="none" stroke="#e8251f" stroke-width="3.3" stroke-linejoin="round" stroke-linecap="butt"/>
<path d="M1072.6,1099.3 L1077.4,1098.9 L1081.2,1096.5 L1085.4,1093.8 L1089.1,1091.9 L1094.5,1090.7 L1100.1,1086.7 L1105.1,1084.9 L1110.0,1083.2 L1114.0,1082.2 L1117.2,1080.4 L1122.6,1077.4 L1127.4,1076.3 L1131.2,1073.9 L1136.3,1071.1 L1141.4,1068.9 L1146.0,1067.4 L1151.0,1064.6 L1155.8,1063.0 L1159.6,1061.5 L1163.4,1060.4 L1167.8,1058.2 L1172.4,1055.8 L1176.2,1053.5 L1181.8,1051.9 L1186.4,1050.0 L1191.7,1047.2 L1195.3,1046.9 L1199.7,1044.7 L1205.1,1043.0 L1210.6,1039.1 L1214.8,1038.9 L1220.1,1035.4 L1223.7,1034.2 L1227.1,1033.0 L1232.5,1031.3 L1236.8,1028.7 L1241.0,1028.8 L1246.1,1025.8 L1250.5,1024.7 L1255.7,1021.4 L1260.7,1019.9 L1265.3,1017.9 L1269.4,1016.6 L1273.6,1014.3 L1277.3,1014.1 L1280.6,1012.0 L1285.7,1010.3 L1289.7,1008.8 L1295.1,1006.5 L1300.0,1006.2 L1303.7,1004.0 L1308.9,1002.5 L1313.1,999.8 L1317.4,998.9 L1322.5,997.0 L1326.8,996.2 L1332.1,993.7 L1336.3,992.7 L1341.9,990.0 L1347.7,989.0 L1351.9,987.5 L1355.9,984.9 L1361.1,983.8 L1365.7,982.5 L1371.3,981.1 L1374.5,979.7 L1378.9,978.0 L1384.3,976.2 L1388.7,975.7 L1393.1,973.5 L1397.6,972.7 L1402.6,970.9 L1406.8,968.2 L1411.8,967.6 L1416.6,966.5" fill="none" stroke="#f13824" stroke-width="3.3" stroke-linejoin="round" stroke-linecap="butt"/>
<path d="M1072.6,1085.0 L1076.3,1083.4 L1081.7,1081.1 L1085.1,1081.0 L1089.8,1077.6 L1094.8,1076.9 L1099.2,1073.7 L1104.2,1072.3 L1108.9,1071.5 L1114.3,1069.1 L1117.8,1066.6 L1122.4,1064.1 L1128.2,1062.2 L1132.1,1060.8 L1135.9,1060.3 L1140.6,1057.8 L1144.8,1055.1 L1148.8,1055.2 L1154.1,1053.1 L1158.0,1050.3 L1161.3,1049.6 L1165.4,1047.9 L1169.9,1046.4 L1174.0,1045.2 L1177.7,1044.0 L1182.4,1040.5 L1186.4,1040.0 L1190.6,1038.4 L1194.7,1036.3 L1200.0,1034.4 L1205.0,1033.5 L1209.8,1031.0 L1215.4,1028.9 L1221.0,1026.1 L1225.3,1025.7 L1228.6,1025.0 L1231.9,1023.2 L1235.6,1022.6 L1240.2,1020.6 L1244.7,1018.8 L1249.7,1016.3 L1253.4,1016.0 L1256.9,1015.0 L1260.7,1012.0 L1264.1,1012.2 L1269.8,1009.5 L1274.7,1007.5 L1280.3,1006.4 L1283.9,1003.9 L1288.9,1002.2 L1294.3,1000.9 L1298.1,1000.2 L1302.1,998.8 L1305.7,998.3 L1309.7,996.9 L1313.3,995.6 L1319.0,992.9 L1322.3,991.8 L1327.2,990.0 L1331.8,988.2 L1336.2,988.1 L1340.5,986.6 L1344.0,985.8 L1347.4,984.9 L1353.3,983.1 L1357.9,980.4 L1361.9,980.1 L1366.4,979.1 L1369.8,977.1 L1375.3,975.7 L1379.9,973.3 L1383.5,972.6 L1389.0,972.1 L1392.8,971.1 L1396.0,969.5 L1401.8,967.4 L1407.5,966.3 L1410.8,964.7 L1415.1,963.3 L1416.6,962.8" fill="none" stroke="#fa4a29" stroke-width="3.3" stroke-linejoin="round" stroke-linecap="butt"/>
<path d="M1072.6,1074.5 L1076.6,1071.5 L1081.2,1069.7 L1085.9,1069.3 L1090.6,1066.8 L1093.9,1065.6 L1097.3,1064.6 L1100.8,1063.1 L1104.9,1061.1 L1109.8,1058.8 L1113.4,1059.0 L1117.5,1057.3 L1123.0,1054.5 L1126.5,1052.4 L1132.1,1050.4 L1136.5,1049.5 L1140.0,1048.1 L1143.6,1046.9 L1148.1,1044.9 L1151.8,1043.7 L1155.5,1041.8 L1159.3,1041.9 L1163.8,1040.3 L1167.0,1039.2 L1171.5,1037.3 L1176.2,1035.5 L1179.9,1034.3 L1183.5,1032.0 L1186.7,1031.2 L1191.3,1029.4 L1196.8,1027.0 L1201.5,1025.7 L1206.3,1025.1 L1211.4,1022.0 L1215.2,1021.7 L1221.0,1018.6 L1225.8,1018.3 L1231.2,1015.8 L1236.5,1014.3 L1242.1,1011.5 L1247.8,1010.5 L1252.1,1008.4 L1255.9,1008.5 L1260.9,1005.7 L1264.9,1004.4 L1268.6,1003.3 L1272.7,1003.6 L1278.5,1001.3 L1283.0,999.4 L1288.2,998.5 L1293.4,996.4 L1297.1,995.2 L1302.5,993.9 L1305.9,992.7 L1310.0,990.3 L1315.8,989.6 L1320.9,987.0 L1326.3,987.0 L1331.9,984.9 L1337.3,983.5 L1342.0,981.3 L1347.4,980.5 L1352.9,977.9 L1358.7,976.7 L1364.4,974.3 L1370.1,974.0 L1374.0,973.0 L1377.7,970.7 L1382.1,969.6 L1386.6,969.7 L1391.6,967.9 L1395.8,966.9 L1401.1,965.3 L1406.8,964.0 L1411.1,961.4 L1416.0,961.6 L1416.6,961.0" fill="none" stroke="#fc5f2f" stroke-width="3.3" stroke-linejoin="round" stroke-linecap="butt"/>
<path d="M1072.6,1065.4 L1077.9,1061.7 L1082.4,1060.1 L1085.8,1060.4 L1090.1,1058.5 L1094.5,1056.3 L1098.2,1055.0 L1103.6,1053.6 L1107.6,1051.1 L1111.5,1050.9 L1115.8,1049.3 L1121.1,1046.3 L1126.1,1044.4 L1131.5,1042.8 L1135.4,1043.0 L1139.5,1040.1 L1145.1,1038.9 L1150.6,1036.6 L1155.1,1036.2 L1159.6,1034.7 L1163.3,1033.1 L1166.9,1031.3 L1170.0,1029.6 L1175.7,1028.2 L1181.1,1026.0 L1185.2,1024.4 L1189.8,1024.3 L1194.4,1021.9 L1200.0,1021.1 L1205.0,1017.8 L1209.8,1017.0 L1215.5,1015.0 L1220.5,1014.0 L1224.6,1012.4 L1229.6,1011.6 L1234.1,1009.1 L1239.9,1006.7 L1245.3,1006.3 L1249.9,1004.4 L1255.1,1003.7 L1260.2,1001.8 L1263.5,1000.0 L1267.0,1000.2 L1272.6,996.9 L1277.3,996.3 L1280.6,995.0 L1285.7,994.0 L1289.7,993.1 L1293.6,991.5 L1297.9,991.1 L1302.8,989.3 L1307.8,987.1 L1313.5,986.1 L1318.5,983.8 L1322.1,983.4 L1327.5,982.3 L1331.6,979.8 L1336.1,980.1 L1339.7,978.8 L1343.3,976.9 L1346.6,976.0 L1350.8,976.2 L1356.5,973.1 L1360.5,973.5 L1364.2,971.3 L1368.5,969.7 L1372.4,969.3 L1376.6,969.3 L1380.5,966.8 L1386.1,965.8 L1391.5,964.8 L1396.7,962.8 L1400.3,962.8 L1404.7,961.3 L1409.7,960.4 L1413.6,958.7 L1416.6,958.3" fill="none" stroke="#fd7635" stroke-width="3.3" stroke-linejoin="round" stroke-linecap="butt"/>
<path d="M1072.6,1056.4 L1077.5,1054.6 L1082.7,1052.2 L1088.1,1051.4 L1092.2,1050.7 L1096.0,1047.9 L1099.4,1047.3 L1104.6,1045.8 L1108.8,1044.5 L1112.3,1042.3 L1117.2,1041.9 L1122.0,1039.7 L1127.3,1037.3 L1133.0,1036.0 L1137.0,1034.0 L1142.4,1032.1 L1146.0,1031.9 L1150.6,1029.6 L1155.6,1028.7 L1159.1,1026.5 L1162.4,1025.5 L1166.9,1024.9 L1171.8,1022.7 L1176.1,1021.3 L1180.0,1020.6 L1185.3,1018.9 L1188.8,1017.4 L1194.0,1015.4 L1199.6,1014.4 L1204.7,1012.6 L1209.6,1011.2 L1213.1,1009.7 L1218.2,1008.0 L1222.1,1005.7 L1226.9,1005.7 L1230.7,1003.3 L1234.5,1001.9 L1239.5,1002.2 L1244.8,999.3 L1249.8,997.2 L1255.2,996.1 L1258.4,995.8 L1261.9,994.0 L1265.2,993.4 L1269.9,992.7 L1273.1,991.8 L1276.6,989.6 L1281.4,988.4 L1285.5,987.7 L1289.2,987.1 L1292.9,986.1 L1298.3,984.0 L1301.5,983.6 L1304.7,982.1 L1309.0,980.1 L1313.9,980.0 L1318.6,978.1 L1323.1,977.2 L1326.9,976.7 L1332.7,975.0 L1338.5,972.5 L1344.3,970.4 L1348.7,969.4 L1353.1,969.3 L1358.2,967.5 L1362.2,965.9 L1366.5,965.0 L1370.2,965.0 L1374.7,963.2 L1378.4,962.8 L1382.1,961.0 L1386.7,960.7 L1392.5,959.3 L1398.2,958.2 L1403.3,956.6 L1406.6,954.7 L1409.8,955.3 L1414.9,953.6 L1416.6,952.6" fill="none" stroke="#fd8c3c" stroke-width="3.3" stroke-linejoin="round" stroke-linecap="butt"/>
<path d="M1072.6,1048.2 L1077.5,1048.1 L1081.4,1044.8 L1085.1,1044.2 L1090.6,1043.1 L1095.0,1040.2 L1098.4,1039.1 L1103.7,1037.9 L1109.5,1036.7 L1114.8,1034.1 L1120.2,1031.5 L1123.6,1031.2 L1128.2,1029.0 L1132.0,1027.3 L1137.6,1026.8 L1143.3,1025.4 L1147.6,1023.5 L1151.8,1022.3 L1157.2,1019.1 L1160.4,1018.2 L1165.1,1017.0 L1168.3,1016.9 L1173.6,1014.5 L1176.9,1014.2 L1181.4,1011.1 L1185.5,1011.0 L1191.0,1008.9 L1195.9,1006.8 L1199.7,1007.0 L1203.9,1004.1 L1208.6,1002.7 L1212.3,1002.2 L1217.0,1001.1 L1222.1,999.1 L1225.4,998.7 L1228.7,997.2 L1233.0,996.3 L1238.0,993.9 L1242.9,993.3 L1247.4,990.9 L1253.0,990.2 L1256.3,988.5 L1262.1,986.8 L1266.3,986.7 L1271.7,984.8 L1276.8,982.1 L1280.2,983.0 L1285.6,979.6 L1288.8,979.1 L1294.5,977.5 L1299.5,977.5 L1304.3,976.1 L1308.2,973.5 L1311.4,973.8 L1314.8,973.3 L1319.9,970.4 L1325.2,968.9 L1329.8,967.5 L1335.0,967.7 L1340.7,964.4 L1346.1,964.1 L1351.5,962.6 L1356.3,961.5 L1361.6,959.1 L1364.9,959.2 L1368.8,957.9 L1372.0,957.8 L1375.2,957.1 L1380.6,955.0 L1384.1,954.6 L1387.8,953.2 L1391.2,953.4 L1395.8,951.0 L1399.2,951.0 L1404.7,949.9 L1408.1,948.1 L1412.1,947.9 L1415.6,946.7 L1416.6,946.8" fill="none" stroke="#fd9941" stroke-width="3.3" stroke-linejoin="round" stroke-linecap="butt"/>
<path d="M1072.6,1040.0 L1076.0,1039.0 L1081.0,1038.2 L1085.5,1036.3 L1089.8,1035.2 L1094.7,1034.1 L1099.8,1032.0 L1105.4,1030.2 L1110.5,1026.8 L1115.5,1026.7 L1119.8,1025.3 L1123.4,1024.2 L1127.8,1022.3 L1131.6,1020.2 L1135.7,1018.9 L1139.1,1018.0 L1144.9,1016.5 L1150.6,1014.8 L1156.0,1013.5 L1161.2,1010.4 L1165.0,1009.4 L1168.2,1008.0 L1173.7,1007.6 L1177.8,1006.0 L1183.0,1004.6 L1188.3,1002.2 L1191.8,1001.7 L1195.8,1000.0 L1199.9,998.5 L1205.6,996.0 L1210.2,995.5 L1214.8,994.7 L1219.1,993.4 L1224.1,991.9 L1227.5,989.4 L1231.4,989.6 L1234.6,987.3 L1239.7,987.3 L1243.3,985.1 L1248.3,984.1 L1253.5,982.7 L1257.3,980.6 L1260.5,980.5 L1264.2,978.6 L1270.0,977.7 L1274.7,976.4 L1279.5,975.1 L1283.5,972.7 L1286.8,971.7 L1290.9,970.7 L1294.4,970.5 L1300.2,969.3 L1304.0,968.4 L1307.7,966.0 L1311.6,965.5 L1316.7,964.2 L1321.8,962.2 L1327.4,961.1 L1332.8,959.1 L1338.2,958.0 L1343.7,957.7 L1348.6,955.4 L1351.8,954.4 L1357.4,952.9 L1362.3,952.5 L1367.3,950.4 L1370.8,949.3 L1376.6,948.4 L1381.5,947.6 L1385.3,945.6 L1388.5,946.4 L1392.0,945.8 L1396.1,944.3 L1399.6,943.6 L1403.5,941.8 L1408.0,940.2 L1411.8,940.6 L1415.8,938.9 L1416.6,938.3" fill="none" stroke="#fea747" stroke-width="3.3" stroke-linejoin="round" stroke-linecap="butt"/>
<path d="M1072.6,1033.9 L1076.3,1032.9 L1080.5,1031.9 L1084.9,1030.8 L1088.2,1029.2 L1093.6,1026.4 L1096.8,1025.7 L1100.3,1024.5 L1105.4,1022.0 L1108.8,1021.5 L1112.4,1019.8 L1116.8,1018.0 L1120.1,1017.4 L1124.5,1017.0 L1129.2,1013.7 L1132.9,1013.7 L1137.6,1012.4 L1143.4,1010.4 L1146.8,1009.4 L1151.4,1006.5 L1155.0,1006.5 L1158.7,1003.7 L1162.6,1004.1 L1167.0,1002.3 L1170.3,1000.6 L1174.3,998.8 L1179.3,997.5 L1182.7,997.6 L1187.2,994.6 L1190.4,994.5 L1194.9,991.8 L1199.3,991.8 L1203.9,989.4 L1208.4,988.7 L1213.3,986.2 L1218.6,986.2 L1223.8,984.4 L1227.9,983.2 L1231.6,980.7 L1236.3,980.6 L1239.7,978.2 L1243.0,977.7 L1246.5,976.1 L1251.7,975.3 L1257.4,973.3 L1262.3,971.0 L1268.0,969.8 L1272.5,969.0 L1278.2,967.3 L1284.0,965.9 L1287.8,965.2 L1291.5,964.5 L1295.8,961.7 L1301.6,960.3 L1305.8,959.1 L1310.8,957.1 L1314.9,956.2 L1320.3,954.4 L1325.1,953.6 L1329.5,953.0 L1334.6,950.8 L1338.4,949.7 L1344.1,948.3 L1347.6,948.1 L1352.3,947.5 L1355.7,945.4 L1359.3,945.1 L1363.6,943.6 L1369.2,942.7 L1374.6,941.9 L1378.5,940.8 L1382.8,938.0 L1388.4,936.7 L1391.6,936.2 L1395.5,936.6 L1401.0,934.2 L1405.6,933.9 L1410.9,932.2 L1415.5,930.0 L1416.6,930.8" fill="none" stroke="#feb44e" stroke-width="3.3" stroke-linejoin="round" stroke-linecap="butt"/>
<path d="M1072.6,1029.4 L1077.9,1028.1 L1083.7,1024.5 L1087.0,1024.7 L1091.7,1021.6 L1096.7,1020.0 L1100.5,1018.8 L1105.1,1017.8 L1108.4,1016.8 L1113.3,1014.5 L1118.2,1013.4 L1121.4,1011.6 L1126.4,1010.4 L1131.3,1007.6 L1137.0,1006.8 L1140.8,1004.8 L1146.5,1002.4 L1150.8,1002.5 L1156.4,999.1 L1161.5,997.7 L1166.4,996.8 L1169.9,994.6 L1173.7,993.4 L1176.9,992.1 L1181.2,991.3 L1184.5,990.5 L1190.2,988.6 L1194.3,987.5 L1198.7,985.1 L1203.1,983.3 L1208.1,982.0 L1212.2,982.3 L1217.5,980.4 L1222.3,978.5 L1227.4,977.5 L1231.1,976.0 L1235.0,973.7 L1240.4,972.8 L1245.8,971.7 L1250.6,968.9 L1253.8,968.6 L1258.9,966.5 L1262.2,965.0 L1265.8,965.3 L1269.0,963.4 L1272.9,963.2 L1278.7,960.1 L1282.1,960.9 L1287.9,957.7 L1292.0,957.2 L1296.0,955.9 L1300.4,954.3 L1303.7,953.0 L1307.3,952.0 L1312.1,951.8 L1316.0,950.9 L1321.1,948.6 L1325.6,947.0 L1331.3,946.2 L1334.5,944.5 L1339.6,943.6 L1344.7,941.9 L1350.0,941.6 L1353.4,940.3 L1357.0,939.5 L1362.3,938.3 L1366.1,935.9 L1371.1,935.6 L1374.6,933.9 L1379.3,932.5 L1384.2,931.5 L1388.0,930.9 L1392.6,930.3 L1395.8,929.5 L1399.6,927.7 L1404.5,927.3 L1409.3,926.5 L1413.0,924.4 L1416.6,923.4" fill="none" stroke="#fec25d" stroke-width="3.3" stroke-linejoin="round" stroke-linecap="butt"/>
<path d="M1072.6,1024.6 L1076.4,1024.4 L1081.7,1022.3 L1087.5,1020.3 L1091.5,1017.8 L1096.6,1015.4 L1101.4,1013.7 L1104.6,1013.3 L1108.2,1012.8 L1113.7,1009.9 L1117.4,1007.8 L1121.9,1007.0 L1126.1,1005.9 L1130.6,1004.4 L1134.1,1001.7 L1138.3,1001.0 L1142.1,1000.1 L1145.8,998.0 L1150.3,997.2 L1155.5,994.7 L1159.9,994.3 L1165.5,991.7 L1169.0,990.2 L1173.8,988.2 L1177.1,988.5 L1182.7,984.9 L1187.1,984.3 L1191.1,981.9 L1196.2,981.6 L1200.6,978.7 L1204.8,977.4 L1210.5,975.4 L1214.5,975.5 L1218.0,973.0 L1221.3,972.1 L1225.9,971.9 L1229.5,969.4 L1234.7,968.2 L1238.8,966.3 L1242.6,966.8 L1246.1,964.3 L1251.2,963.9 L1256.8,961.3 L1262.5,959.8 L1266.5,958.3 L1271.6,957.3 L1275.1,955.1 L1280.8,953.2 L1286.1,952.1 L1290.0,950.7 L1294.4,950.9 L1297.9,949.5 L1301.9,947.0 L1307.1,945.8 L1310.8,944.9 L1316.1,944.2 L1320.8,941.1 L1326.0,940.8 L1331.6,939.9 L1335.6,938.6 L1341.0,935.9 L1345.1,934.9 L1349.3,933.8 L1352.7,932.5 L1358.3,931.4 L1363.2,931.0 L1368.4,928.3 L1374.0,927.9 L1379.8,926.1 L1385.0,924.9 L1388.8,923.6 L1393.0,922.9 L1396.5,921.3 L1400.6,920.9 L1404.7,919.8 L1410.1,918.5 L1413.6,917.7 L1416.6,916.5" fill="none" stroke="#fecf6c" stroke-width="3.3" stroke-linejoin="round" stroke-linecap="butt"/>
<path d="M1072.6,1020.3 L1075.9,1019.5 L1080.5,1016.8 L1084.6,1015.9 L1089.8,1014.1 L1093.6,1011.6 L1097.4,1009.6 L1101.4,1008.0 L1106.7,1006.4 L1110.1,1004.8 L1115.2,1003.1 L1119.6,1001.9 L1124.9,1001.0 L1128.9,998.9 L1134.5,996.5 L1140.1,995.0 L1144.1,993.8 L1148.7,990.6 L1153.5,990.3 L1158.0,988.0 L1162.3,987.3 L1167.3,984.2 L1171.4,983.0 L1177.1,981.7 L1180.6,980.9 L1183.9,979.1 L1188.2,977.9 L1192.5,975.1 L1197.0,975.0 L1202.3,972.3 L1206.1,971.8 L1211.4,968.9 L1216.9,968.6 L1221.2,966.0 L1226.3,965.4 L1230.0,962.9 L1234.0,962.4 L1237.7,960.9 L1242.2,959.6 L1245.7,959.1 L1251.6,956.4 L1256.9,953.9 L1262.5,952.9 L1267.7,951.8 L1271.8,950.7 L1275.5,947.7 L1280.0,948.0 L1285.6,946.4 L1290.1,945.0 L1294.8,942.0 L1299.7,941.8 L1304.0,940.1 L1307.8,938.3 L1312.1,937.5 L1316.5,935.3 L1319.7,934.9 L1324.8,934.2 L1328.5,932.1 L1333.1,930.6 L1337.9,930.7 L1341.6,928.9 L1346.7,927.8 L1351.7,926.3 L1355.6,925.4 L1361.3,922.3 L1367.0,921.5 L1370.3,919.8 L1375.6,919.5 L1379.2,918.1 L1384.1,917.9 L1388.1,916.3 L1391.9,914.1 L1395.5,913.6 L1400.3,912.1 L1403.9,911.0 L1407.3,910.0 L1411.3,909.6 L1414.9,908.6 L1416.6,909.1" fill="none" stroke="#fedb7a" stroke-width="3.3" stroke-linejoin="round" stroke-linecap="butt"/>
<path d="M1072.6,1014.2 L1078.3,1011.9 L1082.0,1010.6 L1085.5,1008.4 L1088.9,1008.1 L1094.6,1005.3 L1098.7,1003.7 L1102.8,1002.7 L1107.0,1000.0 L1112.5,998.7 L1115.7,998.0 L1120.8,995.1 L1125.7,994.4 L1129.9,991.8 L1133.9,990.5 L1138.8,989.0 L1144.5,985.7 L1148.6,985.6 L1153.9,983.1 L1158.9,980.8 L1164.6,979.1 L1168.9,976.8 L1172.3,977.0 L1177.6,973.4 L1181.6,972.8 L1186.1,971.0 L1191.7,969.0 L1196.3,968.5 L1201.2,965.9 L1205.2,964.3 L1210.0,963.5 L1213.9,961.3 L1218.1,959.8 L1223.7,958.3 L1227.6,956.5 L1232.9,954.4 L1237.9,952.4 L1241.6,951.2 L1246.9,949.6 L1250.7,948.2 L1254.6,948.3 L1259.7,947.0 L1265.4,944.4 L1271.0,941.6 L1276.7,940.5 L1280.3,939.9 L1285.8,937.5 L1289.2,937.4 L1294.4,935.2 L1300.2,932.3 L1303.5,931.4 L1306.7,931.6 L1311.5,928.9 L1315.1,927.9 L1319.9,927.4 L1325.7,925.1 L1331.5,923.5 L1335.7,921.9 L1339.5,922.2 L1345.3,919.9 L1348.9,917.8 L1352.5,917.1 L1357.6,915.0 L1362.2,914.9 L1365.4,913.5 L1370.7,912.3 L1375.1,911.7 L1379.9,909.2 L1384.1,909.3 L1389.6,907.7 L1394.2,904.9 L1397.8,904.3 L1402.9,902.2 L1408.2,902.3 L1412.7,899.5 L1416.6,899.3" fill="none" stroke="#fee289" stroke-width="3.3" stroke-linejoin="round" stroke-linecap="butt"/>
<path d="M1072.6,1009.8 L1077.3,1008.0 L1081.5,1006.7 L1087.3,1004.3 L1092.1,1001.1 L1096.3,999.3 L1101.8,998.0 L1107.1,996.0 L1112.9,993.3 L1117.0,991.9 L1120.8,990.0 L1124.4,989.1 L1128.9,986.2 L1134.5,983.6 L1140.2,982.7 L1143.7,981.3 L1148.4,979.8 L1153.1,977.0 L1158.8,974.1 L1164.1,972.2 L1168.0,970.7 L1173.5,969.3 L1178.6,967.0 L1183.7,965.9 L1187.1,964.3 L1192.2,961.8 L1197.1,960.2 L1201.3,959.9 L1207.0,958.0 L1211.3,955.6 L1216.6,954.0 L1221.0,952.7 L1225.2,951.3 L1229.6,948.1 L1234.8,946.3 L1239.8,944.4 L1245.6,943.3 L1250.8,940.7 L1255.6,939.5 L1259.5,939.1 L1262.7,937.3 L1266.1,936.9 L1271.7,933.4 L1276.1,932.8 L1281.1,931.6 L1285.2,930.7 L1288.9,927.9 L1294.2,926.1 L1297.9,925.6 L1301.9,923.6 L1307.6,922.4 L1312.9,920.3 L1318.5,918.4 L1324.1,917.4 L1329.8,915.9 L1334.7,913.9 L1340.2,912.1 L1343.6,912.0 L1348.9,909.9 L1354.1,907.4 L1358.5,907.2 L1364.2,905.7 L1367.8,904.1 L1372.4,902.2 L1376.0,900.6 L1380.5,900.0 L1384.3,898.6 L1389.0,898.1 L1393.7,895.5 L1399.3,894.3 L1405.0,893.9 L1408.5,892.1 L1414.3,890.1 L1416.6,889.3" fill="none" stroke="#ffe998" stroke-width="3.3" stroke-linejoin="round" stroke-linecap="butt"/>
<path d="M1072.6,1003.3 L1076.3,1001.9 L1080.2,1001.3 L1084.9,1000.0 L1089.9,996.8 L1095.6,995.0 L1100.2,993.5 L1105.2,990.5 L1110.0,988.5 L1115.7,986.1 L1121.5,983.4 L1124.7,983.1 L1128.4,981.5 L1131.9,980.8 L1136.8,978.6 L1142.5,977.0 L1147.4,974.5 L1150.6,972.0 L1154.9,972.1 L1158.9,969.8 L1162.1,968.3 L1167.7,966.5 L1173.0,963.3 L1176.7,962.3 L1182.1,960.1 L1187.8,958.3 L1193.3,956.8 L1197.3,956.2 L1201.6,954.1 L1204.9,953.2 L1210.7,949.6 L1215.9,948.1 L1219.4,947.0 L1224.4,946.4 L1230.2,944.4 L1235.0,942.0 L1238.6,940.9 L1243.3,938.5 L1248.8,936.4 L1252.4,935.0 L1255.9,934.6 L1261.2,932.0 L1265.7,931.2 L1270.4,929.3 L1275.0,927.0 L1278.3,926.7 L1282.1,926.1 L1285.9,925.0 L1289.7,922.3 L1294.2,921.4 L1298.2,920.8 L1302.0,919.4 L1307.4,917.2 L1311.9,916.7 L1316.7,913.7 L1320.0,912.4 L1324.1,911.2 L1329.0,910.3 L1332.9,909.2 L1338.6,906.9 L1342.2,905.9 L1346.2,905.9 L1351.3,903.4 L1354.9,901.5 L1358.3,902.1 L1363.2,899.2 L1368.1,897.6 L1372.6,896.8 L1376.0,896.6 L1381.1,894.7 L1384.7,893.9 L1389.0,892.6 L1392.4,892.2 L1395.6,889.9 L1399.8,888.6 L1403.2,888.6 L1409.0,886.3 L1412.9,885.9 L1416.6,884.3" fill="none" stroke="#fff0a7" stroke-width="3.3" stroke-linejoin="round" stroke-linecap="butt"/>
<path d="M1072.6,999.3 L1076.9,996.4 L1080.3,995.8 L1086.1,994.2 L1089.5,992.0 L1094.0,989.5 L1098.9,988.1 L1104.3,985.6 L1109.9,984.3 L1114.4,981.2 L1118.8,979.4 L1123.8,978.6 L1128.5,977.3 L1131.8,975.5 L1137.1,972.2 L1141.1,970.5 L1145.9,970.0 L1149.9,968.4 L1154.1,966.9 L1158.0,965.9 L1162.3,962.3 L1165.7,962.5 L1171.2,960.2 L1174.8,959.4 L1179.9,956.0 L1184.0,955.5 L1187.2,953.1 L1191.3,953.3 L1197.1,950.0 L1202.7,948.9 L1208.2,946.5 L1214.0,944.6 L1219.7,942.4 L1223.4,941.0 L1227.8,939.0 L1232.0,937.9 L1236.7,935.7 L1240.6,934.9 L1245.1,933.2 L1250.1,931.0 L1254.7,929.6 L1259.9,928.7 L1265.2,926.5 L1269.0,926.0 L1273.5,923.4 L1277.4,922.2 L1282.5,921.3 L1287.0,919.7 L1290.7,917.9 L1294.8,916.3 L1298.9,915.8 L1304.1,913.1 L1307.8,913.0 L1312.8,911.2 L1317.6,909.7 L1321.5,907.2 L1325.6,905.9 L1331.4,905.1 L1336.3,904.4 L1341.7,901.3 L1345.7,899.8 L1351.0,899.5 L1355.5,897.4 L1359.4,896.5 L1364.4,895.8 L1369.9,894.1 L1374.2,891.9 L1378.2,891.9 L1381.9,889.2 L1385.8,889.6 L1391.2,886.8 L1396.7,886.4 L1401.0,883.8 L1406.2,882.6 L1409.7,882.7 L1414.0,880.5 L1416.6,879.5" fill="none" stroke="#fff6b7" stroke-width="3.3" stroke-linejoin="round" stroke-linecap="butt"/>
<line x1="1072.5" y1="1123.2" x2="1443.6" y2="1123.2" stroke="#000" stroke-width="2.2" stroke-dasharray="8.5 5.5"/>
<text x="1458.8" y="1134.6" font-size="26" text-anchor="start" fill="#000" ><tspan font-style="italic">Q</tspan><tspan dy="7.5" font-size="19.5">init</tspan></text>
<path d="M1054.7,859.9 V1228.2 H1442.6" fill="none" stroke="#383838" stroke-width="1.8"/>
<line x1="1045.0" y1="898.2" x2="1054.7" y2="898.2" stroke="#383838" stroke-width="1.8" />
<text x="1035.0" y="906.6" font-size="24.5" text-anchor="end" fill="#000" >4</text>
<line x1="1045.0" y1="1014.6" x2="1054.7" y2="1014.6" stroke="#383838" stroke-width="1.8" />
<text x="1035.0" y="1023.0" font-size="24.5" text-anchor="end" fill="#000" >2</text>
<line x1="1045.0" y1="1131.0" x2="1054.7" y2="1131.0" stroke="#383838" stroke-width="1.8" />
<text x="1035.0" y="1139.4" font-size="24.5" text-anchor="end" fill="#000" >0</text>
<line x1="1072.5" y1="1228.2" x2="1072.5" y2="1238.0" stroke="#383838" stroke-width="1.8" />
<text x="1072.5" y="1264.3" font-size="25" text-anchor="middle" fill="#000" >0</text>
<line x1="1160.4" y1="1228.2" x2="1160.4" y2="1238.0" stroke="#383838" stroke-width="1.8" />
<text x="1160.4" y="1264.3" font-size="25" text-anchor="middle" fill="#000" >25</text>
<line x1="1248.3" y1="1228.2" x2="1248.3" y2="1238.0" stroke="#383838" stroke-width="1.8" />
<text x="1248.3" y="1264.3" font-size="25" text-anchor="middle" fill="#000" >50</text>
<line x1="1336.3" y1="1228.2" x2="1336.3" y2="1238.0" stroke="#383838" stroke-width="1.8" />
<text x="1336.3" y="1264.3" font-size="25" text-anchor="middle" fill="#000" >75</text>
<line x1="1424.2" y1="1228.2" x2="1424.2" y2="1238.0" stroke="#383838" stroke-width="1.8" />
<text x="1424.2" y="1264.3" font-size="25" text-anchor="middle" fill="#000" >100</text>
<text x="1248.5" y="1296.0" font-size="27" text-anchor="middle" fill="#000" >Reward <tspan font-style="italic">r</tspan><tspan baseline-shift="-9.2" font-size="17.8"><tspan font-style="italic">t</tspan></tspan></text>
<defs><linearGradient id="cb" x1="0" y1="0" x2="0" y2="1"><stop offset="0.00" stop-color="#fff6b7"/><stop offset="0.10" stop-color="#ffea9a"/><stop offset="0.20" stop-color="#fedd7d"/><stop offset="0.30" stop-color="#fec661"/><stop offset="0.40" stop-color="#feac49"/><stop offset="0.50" stop-color="#fd933f"/><stop offset="0.60" stop-color="#fc6d33"/><stop offset="0.70" stop-color="#f74427"/><stop offset="0.80" stop-color="#e7211e"/><stop offset="0.90" stop-color="#cf0c21"/><stop offset="1.00" stop-color="#b10026"/></linearGradient></defs>
<rect x="1541" y="957" width="45" height="219.7" fill="url(#cb)"/>
<text x="1544.0" y="923.8" font-size="26" text-anchor="start" fill="#000" textLength="141" lengthAdjust="spacingAndGlyphs" >Value <tspan font-style="italic">Q</tspan><tspan baseline-shift="-8.8" font-size="17.2"><tspan font-style="italic">t</tspan></tspan>(<tspan font-style="italic">a</tspan><tspan baseline-shift="-8.8" font-size="17.2"><tspan font-style="italic">t</tspan></tspan>)</text>
<text x="1608.4" y="971.4" font-size="26" text-anchor="start" fill="#000" >Max</text>
<text x="1609.6" y="1184.4" font-size="26" text-anchor="start" fill="#000" >Min</text>
</svg>
</body></html>
